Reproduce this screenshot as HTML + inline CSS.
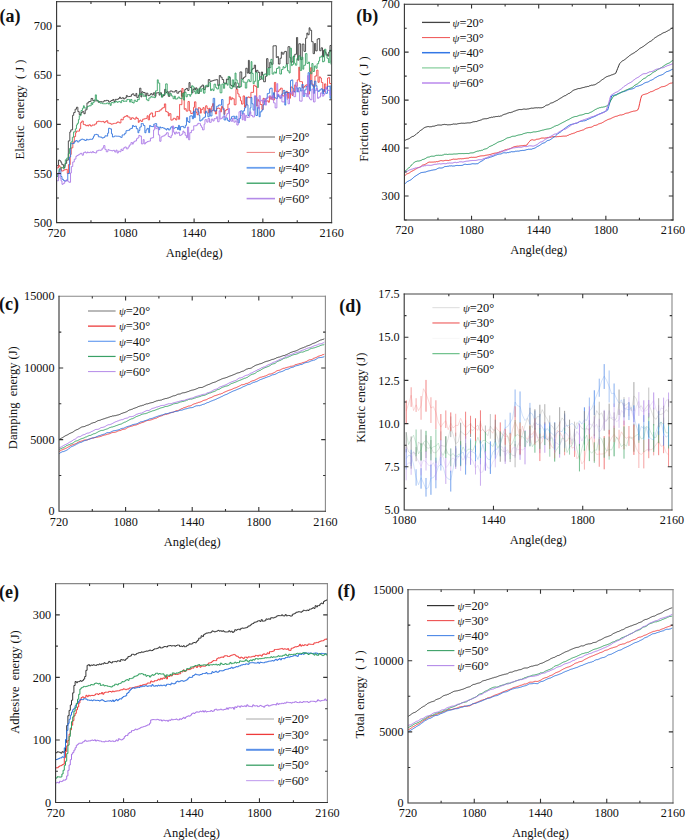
<!DOCTYPE html>
<html><head><meta charset="utf-8"><style>
html,body{margin:0;padding:0;background:#fff;}
body{width:685px;height:840px;overflow:hidden;}
svg{display:block;}
.t{font-family:"Liberation Serif", serif;font-size:12.2px;fill:#111;}
.at{font-family:"Liberation Serif", serif;font-size:12.5px;fill:#111;}
.lg{font-family:"Liberation Serif", serif;font-size:12.4px;fill:#111;}
.tag{font-family:"Liberation Serif", serif;font-size:18px;font-weight:bold;fill:#111;}
</style></head><body>
<svg width="685" height="840" viewBox="0 0 685 840">
<rect width="685" height="840" fill="#fff"/>
<path d="M56.90 165.66H58.53V160.12H59.93V160.97H61.02V162.79H61.86V164.68H63.64V167.56H65.03V163.39H66.62V160.11H68.33V140.89H69.82V131.98H70.81V129.87H72.59V115.35H73.68V112.57H75.11V109.19H76.49V107.24H77.89V111.62H79.22V114.52H81.02V112.55H82.32V111.62H83.89V113.74H85.19V109.85H86.98V102.93H88.76V101.50H89.96V101.34H91.08V98.45H92.74V100.63H94.34V100.87H95.83V100.82H97.04V100.66H98.23V102.25H99.16V101.68H100.59V101.54H101.47V102.05H102.54V101.89H104.00V100.58H104.81V100.80H106.45V100.22H107.32V100.53H108.65V102.07H109.99V101.35H111.02V100.53H112.78V99.47H113.92V101.51H115.22V99.37H116.89V99.39H118.35V98.51H119.53V97.12H120.43V98.36H122.18V97.76H123.57V98.90H124.95V97.89H126.35V95.46H127.30V96.66H128.66V96.47H130.02V96.30H131.40V94.57H132.39V93.82H133.90V95.50H134.77V95.89H135.89V93.45H136.80V97.44H138.35V95.33H139.65V88.19H140.92V97.01H141.79V91.77H143.03V92.59H144.06V92.54H145.16V96.09H146.35V93.17H147.86V95.63H149.45V94.97H150.60V93.66H152.07V94.95H153.38V92.79H154.85V96.37H155.98V92.94H157.68V92.68H159.15V95.13H160.14V92.76H161.51V96.78H163.06V95.53H164.64V89.35H165.88V92.51H166.96V91.66H168.37V96.32H169.90V91.03H171.21V90.96H172.20V91.90H173.61V91.96H175.17V90.60H176.89V93.19H178.68V91.60H179.85V90.97H181.45V96.23H182.94V92.79H184.72V89.58H186.03V88.45H187.69V90.47H188.99V82.61H190.08V87.54H191.84V92.90H192.92V89.58H194.03V88.28H194.89V89.92H195.69V87.84H196.84V89.16H197.91V93.38H199.43V88.43H200.25V86.79H201.94V85.08H203.56V89.47H205.26V86.80H206.83V86.69H208.29V79.62H209.85V81.33H211.53V80.88H213.19V80.36H214.26V79.99H216.01V79.74H217.80V85.56H219.30V75.55H220.71V77.23H222.12V79.54H223.61V83.17H225.32V83.96H226.42V79.13H227.63V79.68H228.74V77.46H230.26V84.94H231.10V85.50H232.30V86.92H233.50V85.14H234.70V82.70H236.07V88.40H237.11V86.59H238.80V87.17H239.98V71.93H241.74V78.99H243.47V77.58H244.62V76.74H245.79V68.25H247.21V73.10H248.40V60.35H249.31V73.51H250.39V72.57H251.38V69.67H252.60V68.37H254.29V65.14H255.56V72.23H256.40V70.35H257.97V72.34H259.63V79.29H261.32V72.03H262.54V75.19H263.63V81.75H265.40V76.43H266.58V58.66H267.94V67.78H269.72V62.33H271.37V64.28H273.06V45.86H274.78V45.72H276.29V57.53H277.42V56.58H278.41V64.05H279.96V58.26H281.33V52.09H282.21V54.14H283.88V52.08H284.77V51.40H286.42V64.00H288.01V46.70H289.79V57.74H290.87V62.26H291.70V61.91H293.01V56.55H294.75V54.31H296.49V37.54H297.65V60.19H298.84V43.75H300.60V59.61H302.22V44.07H303.96V51.36H305.57V38.19H306.88V33.02H307.82V34.74H309.14V27.79H310.03V30.23H311.61V41.69H313.12V53.64H314.50V43.49H315.66V50.88H317.18V39.16H318.42V38.53H319.67V50.76H321.08V47.83H322.49V56.90H323.51V50.33H325.04V52.23H326.03V54.20H327.62V56.11H328.71V52.06H330.01V45.46H331.30V62.64" stroke="#333333" stroke-width="0.85" fill="none"/>
<path d="M56.90 167.86H58.64V165.57H59.80V167.12H61.39V171.05H62.78V170.71H63.87V169.80H65.60V169.42H67.27V173.41H68.43V164.65H70.20V154.41H71.23V147.86H72.83V142.18H74.31V136.58H75.58V132.71H76.42V131.12H78.11V131.13H79.48V128.86H80.67V122.56H81.83V121.00H83.28V124.44H84.43V124.72H85.74V125.71H86.91V125.24H87.76V126.01H88.81V124.79H90.45V126.04H92.07V124.98H93.54V125.14H94.81V123.98H96.58V121.73H98.22V121.14H99.26V121.38H100.63V121.72H102.39V121.42H103.97V122.68H105.14V121.58H106.41V120.69H107.73V123.00H109.43V123.38H110.95V124.19H112.14V123.93H113.41V123.44H114.30V123.38H115.59V123.34H116.62V122.49H117.51V121.86H118.40V122.22H119.42V122.93H120.92V119.23H121.90V119.86H123.27V117.31H124.67V116.36H126.44V115.51H127.69V116.99H129.27V117.16H130.10V119.37H131.55V117.77H133.33V118.50H134.18V119.14H135.88V117.18H136.84V118.51H138.31V122.38H139.14V120.91H140.00V120.12H140.94V121.40H142.64V119.20H144.22V118.77H145.68V118.39H147.13V115.75H148.23V119.86H149.55V114.30H150.84V112.96H152.59V116.92H153.84V116.14H155.39V111.63H156.55V111.54H158.27V111.19H159.92V109.88H161.72V108.40H162.74V107.69H164.41V103.90H165.69V111.57H167.00V112.18H168.34V115.97H169.23V113.67H170.91V120.13H172.32V119.80H173.22V118.27H174.76V118.70H175.68V119.98H176.86V116.38H178.33V119.21H179.59V104.41H180.46V104.68H181.88V88.49H183.05V96.01H184.23V109.25H185.19V108.70H186.17V111.09H187.97V101.55H189.37V110.80H190.76V113.50H192.34V112.88H193.52V107.35H194.48V101.83H195.89V112.29H197.09V114.72H198.29V107.73H199.18V108.00H200.40V113.13H201.25V109.33H202.96V107.62H204.13V113.16H205.65V105.82H207.03V108.33H208.28V112.70H209.41V108.20H210.25V111.97H211.70V106.26H212.60V103.61H213.63V110.83H215.39V113.96H216.57V108.47H217.73V108.03H219.22V108.62H220.29V111.90H221.46V106.45H222.57V108.13H224.06V114.32H224.94V110.69H226.12V109.56H227.92V104.15H229.36V96.81H230.63V99.74H231.72V97.73H232.55V98.75H234.26V104.81H235.98V89.43H237.75V93.93H239.03V96.88H240.43V100.73H241.52V104.09H243.14V95.92H244.53V107.18H245.62V105.19H246.72V97.79H247.88V96.93H249.35V97.65H250.92V92.36H251.82V92.39H253.55V85.28H255.10V86.38H256.71V106.09H257.70V99.65H258.65V101.23H260.18V104.52H261.92V109.45H263.07V98.35H263.97V98.92H265.09V101.48H266.73V100.87H268.35V102.26H269.39V96.15H270.34V99.07H271.64V96.88H272.76V100.01H274.41V82.44H275.68V91.38H276.70V91.14H277.93V91.47H278.96V89.84H280.46V88.16H282.23V95.80H283.64V96.05H284.68V92.38H286.29V91.23H287.45V98.40H288.34V92.60H289.30V98.26H290.47V87.03H292.10V95.40H293.13V91.46H294.71V84.84H295.59V86.28H297.23V79.91H298.75V67.18H299.64V81.60H300.48V81.53H301.53V81.77H302.51V88.01H303.96V86.60H305.23V85.32H306.60V84.63H307.69V94.05H309.46V84.28H310.37V67.76H311.83V84.18H313.16V87.00H314.95V76.02H316.71V70.12H317.99V82.26H319.23V76.88H320.39V78.00H321.36V82.45H322.84V91.72H324.53V83.88H325.81V88.76H327.52V78.06H328.57V77.61H329.64V83.51H331.30V86.93" stroke="#ee3b3b" stroke-width="0.85" fill="none"/>
<path d="M56.90 175.02H57.86V174.17H59.25V168.92H60.87V176.52H61.97V179.30H63.45V180.56H64.72V181.08H66.41V180.34H67.77V173.53H69.57V156.97H70.61V143.30H71.52V143.83H72.66V143.47H74.24V141.79H75.58V140.64H77.31V141.94H79.10V140.35H80.82V139.42H81.78V139.14H83.17V139.67H84.70V140.46H86.42V139.20H87.37V139.86H88.78V139.64H89.63V139.24H91.18V139.33H92.55V138.19H93.48V136.22H94.39V134.65H95.71V134.36H97.01V134.81H98.35V136.83H100.12V137.12H101.90V138.04H103.00V137.80H103.87V137.27H104.96V135.82H106.58V136.12H107.64V133.16H108.58V128.27H109.99V128.86H111.48V133.84H112.45V137.02H113.31V136.84H114.27V136.09H115.31V136.02H116.47V136.23H117.83V136.22H119.55V136.68H120.70V137.36H122.13V134.93H123.59V134.86H124.68V133.30H126.03V130.68H127.81V130.30H129.61V129.05H130.83V128.38H132.46V125.46H133.59V126.49H135.20V126.07H136.37V128.75H137.95V132.75H138.83V130.49H139.83V127.00H141.26V123.50H142.28V123.67H143.38V125.53H144.85V132.75H145.95V129.96H147.07V128.40H148.69V132.61H149.60V125.44H150.44V126.36H152.07V126.58H153.77V124.10H155.25V123.61H156.68V126.90H158.37V129.69H159.70V126.92H160.61V127.90H161.79V127.57H163.03V128.09H164.68V128.93H166.09V130.03H166.96V128.56H168.42V129.93H170.06V128.23H170.94V126.85H172.66V128.16H173.52V128.22H175.02V127.52H176.18V127.54H177.49V129.47H178.46V125.37H179.43V130.11H180.52V126.65H182.12V126.41H183.75V127.76H185.34V125.32H186.48V117.68H187.62V121.49H188.87V122.51H189.82V115.99H191.01V115.86H192.36V118.77H193.45V111.14H194.42V117.59H195.31V108.94H196.56V109.08H197.89V111.73H199.00V115.40H199.80V120.97H201.08V119.90H202.83V118.00H204.21V117.11H205.49V111.26H206.74V112.96H207.87V116.81H209.26V109.54H210.26V116.00H211.95V110.38H213.20V98.33H214.67V111.16H215.53V110.77H216.70V106.25H217.65V106.17H218.64V104.97H220.08V105.12H221.53V99.52H222.97V109.66H224.10V119.97H225.75V117.90H227.33V120.34H228.73V121.44H229.90V119.13H231.44V116.75H232.51V116.33H233.54V116.09H234.37V118.74H235.91V116.15H236.87V119.65H238.00V122.84H239.29V118.41H240.56V110.87H242.16V114.19H243.10V110.85H244.52V107.80H245.84V97.30H246.86V104.89H247.98V115.60H249.17V113.81H250.09V107.86H250.94V97.49H251.89V103.75H253.10V110.09H254.75V96.42H255.85V115.50H257.47V107.31H259.15V116.78H260.17V111.82H261.79V110.07H263.06V104.79H264.38V100.75H265.96V98.18H267.25V93.63H268.69V93.13H269.64V88.87H270.50V88.18H272.14V97.58H273.47V92.72H274.32V97.78H275.88V98.58H277.44V94.45H278.49V96.79H280.00V97.89H281.76V93.96H283.14V90.41H284.82V105.09H285.73V91.89H286.62V92.74H287.78V92.47H288.71V93.02H290.51V80.59H291.48V79.93H292.77V88.36H293.65V91.46H294.49V92.13H296.05V87.75H297.51V91.87H298.70V87.76H300.33V91.02H301.86V84.48H303.18V96.32H304.75V89.86H306.17V86.50H307.06V86.74H308.11V72.69H309.44V90.88H310.55V80.58H311.91V85.27H313.37V93.39H314.48V81.15H315.87V85.71H316.96V90.79H318.43V91.54H319.25V90.02H321.01V88.78H322.35V93.96H323.52V89.57H324.76V91.21H325.73V93.34H327.45V86.31H328.73V86.23H330.03V98.27H330.95V85.51H331.30V93.75" stroke="#2a6fdd" stroke-width="0.85" fill="none"/>
<path d="M56.90 176.44H58.01V173.97H59.04V169.73H60.02V167.94H61.68V167.62H63.34V168.74H64.24V165.42H65.33V159.79H66.79V158.07H68.29V153.71H69.53V148.44H70.81V141.92H72.35V137.26H73.59V131.89H75.35V128.87H76.46V124.91H77.37V123.32H78.43V119.64H79.28V115.71H81.00V110.55H82.45V108.25H83.45V105.76H84.29V108.01H85.93V108.20H87.10V106.57H88.11V106.22H89.32V105.61H90.28V105.85H91.15V102.87H91.98V104.41H92.78V102.38H94.20V99.86H95.33V94.87H96.39V100.08H97.65V101.19H99.08V102.27H100.12V103.17H101.05V103.05H102.52V103.71H103.60V103.72H105.25V103.73H106.56V103.04H108.34V104.06H109.32V103.44H110.25V105.40H111.21V102.58H112.98V102.84H114.46V102.16H115.86V101.23H117.00V102.32H117.96V101.93H118.77V101.57H120.38V102.67H121.64V100.36H123.43V101.53H124.25V101.11H125.90V101.34H126.87V99.44H128.65V99.48H129.60V102.07H130.63V99.47H131.90V102.47H133.22V103.05H134.18V100.23H135.70V101.48H137.41V99.16H138.29V99.77H139.26V93.77H140.83V94.98H141.69V93.80H143.17V96.27H144.71V95.95H146.40V99.73H147.75V100.68H148.92V97.93H149.81V97.84H150.88V96.28H151.83V97.11H153.14V97.03H153.97V97.64H155.53V90.85H157.32V79.84H158.26V83.07H159.72V93.93H161.41V97.19H162.43V94.62H164.14V94.18H165.67V83.88H167.23V93.91H168.28V95.60H169.79V93.66H171.38V95.97H173.08V98.71H174.44V96.03H175.34V99.10H176.78V98.73H177.98V97.05H179.66V98.42H180.81V98.72H182.22V93.44H183.56V100.11H184.49V92.22H186.02V96.79H187.28V94.58H188.60V94.58H189.83V96.27H190.66V94.48H191.58V85.79H192.89V86.91H194.10V91.48H195.32V93.69H196.34V89.86H197.71V93.38H198.95V88.28H200.26V91.40H201.68V88.71H203.46V93.14H204.97V85.89H206.39V85.21H207.89V86.44H208.96V82.68H210.52V90.54H211.57V89.06H213.04V90.60H214.06V84.19H215.66V87.52H216.81V88.96H218.53V84.49H220.13V92.81H221.87V84.09H223.43V88.31H224.60V82.93H225.59V83.66H227.29V85.24H228.14V76.46H229.90V87.88H230.86V88.61H232.25V79.86H233.57V86.79H235.06V73.04H236.01V79.99H237.18V83.19H238.57V87.51H240.16V86.60H241.55V79.40H243.02V82.10H244.08V82.14H245.30V88.08H246.72V81.98H247.87V79.76H249.46V81.64H251.12V61.58H251.93V73.37H253.16V83.68H254.19V81.27H255.63V72.61H257.33V87.51H258.42V80.39H259.56V77.14H260.78V76.48H262.08V79.18H263.37V74.74H264.66V73.95H266.28V75.84H267.41V68.59H268.73V74.90H269.72V67.65H270.88V59.36H272.15V74.07H273.89V72.01H275.44V73.16H276.50V68.50H278.24V66.92H279.84V74.03H281.51V69.44H283.06V66.68H284.01V67.88H285.13V67.17H286.04V64.65H287.48V70.84H289.06V72.98H290.11V48.25H291.46V65.61H292.30V64.44H293.54V55.89H294.37V63.18H295.37V65.17H296.81V58.65H298.55V55.86H300.16V70.44H301.63V57.18H302.84V69.20H303.75V65.27H305.41V53.61H306.95V63.44H308.43V62.04H309.46V71.82H310.76V73.81H311.86V63.56H313.01V71.44H314.46V65.97H315.95V68.23H317.08V63.76H318.60V61.04H319.61V57.15H321.30V55.95H322.61V61.93H323.52V61.26H324.59V49.22H325.87V55.29H326.99V58.25H328.44V62.60H329.79V50.26H331.05V64.35H331.30V60.62" stroke="#2f9e5e" stroke-width="0.85" fill="none"/>
<path d="M56.90 180.74H58.54V172.45H60.03V178.11H61.05V180.95H61.97V184.33H63.15V183.32H64.70V180.96H66.24V179.91H67.45V181.13H68.89V182.32H70.52V172.91H71.38V166.56H72.72V161.97H74.28V159.11H75.90V156.36H76.92V155.49H78.21V154.78H79.37V154.09H80.44V153.35H82.04V155.18H83.40V152.65H84.76V151.92H85.83V152.98H87.32V151.98H88.18V152.62H89.96V152.07H91.26V152.75H92.25V151.58H93.51V152.56H95.02V152.90H96.65V150.84H98.32V150.20H99.88V150.29H101.06V149.95H102.16V148.13H103.65V145.57H104.91V149.39H106.25V151.76H107.92V149.64H108.83V150.10H109.67V150.34H110.73V150.62H111.92V150.86H113.02V150.36H114.71V151.99H115.97V150.11H117.12V153.01H118.30V151.18H119.71V151.77H120.98V149.21H121.90V150.47H123.20V148.06H124.75V146.99H126.31V148.85H128.09V147.02H129.29V144.99H130.94V142.61H132.38V144.14H133.26V141.98H134.75V140.95H136.54V138.69H137.61V137.86H138.82V135.41H139.91V136.12H141.43V143.88H143.14V139.64H144.20V143.97H145.39V142.60H146.98V141.58H148.67V141.10H150.45V138.16H152.03V137.74H153.55V129.93H154.64V125.41H155.71V128.65H156.87V127.92H158.41V134.94H159.76V141.27H161.00V136.98H162.21V136.19H163.63V135.73H165.11V134.34H166.47V132.75H168.25V136.52H169.96V137.62H171.25V135.25H172.37V125.98H173.62V132.25H174.50V134.07H175.80V131.95H176.73V133.20H178.38V132.39H179.59V135.56H180.63V134.97H181.88V133.91H182.94V131.04H183.86V132.43H185.17V135.31H186.42V137.79H187.47V127.04H188.63V139.81H189.74V132.66H191.42V130.30H192.57V130.19H193.72V125.81H194.78V125.77H196.37V124.99H197.81V123.36H199.36V123.60H200.47V125.62H201.44V127.31H202.47V129.85H204.10V124.20H204.98V119.70H206.77V122.13H208.06V118.53H209.52V122.33H211.24V119.13H212.86V121.03H214.14V118.57H215.03V118.78H216.41V116.79H217.64V121.74H219.14V110.85H220.10V119.02H221.31V118.48H222.29V116.93H224.04V116.56H225.29V117.50H226.12V115.21H226.97V113.51H228.44V108.47H229.52V120.13H231.22V121.33H232.51V118.27H233.88V122.18H235.27V120.86H236.87V125.03H238.19V118.88H239.03V111.77H240.66V115.22H242.28V119.88H243.19V113.61H244.61V120.60H245.60V115.43H246.87V117.47H248.03V117.19H249.67V111.87H250.84V115.48H252.62V116.94H254.39V95.77H255.85V97.65H257.33V105.44H258.27V108.72H259.24V95.71H260.31V101.03H261.57V100.14H262.77V103.14H263.78V98.81H265.44V105.12H266.36V98.87H267.51V97.23H269.15V95.92H270.90V99.19H272.38V95.40H273.57V102.87H275.14V107.90H276.88V83.64H277.70V94.68H278.68V95.26H279.86V98.62H280.78V95.25H281.92V101.85H283.54V102.06H284.41V94.96H285.36V96.34H286.20V94.13H287.15V99.45H288.05V103.81H289.51V92.39H291.14V94.17H292.14V91.39H293.84V96.68H295.61V82.66H297.07V89.86H298.42V91.28H299.67V101.07H301.07V101.16H302.09V90.04H303.37V94.22H305.05V93.48H306.65V96.71H307.55V75.62H308.65V97.14H309.52V98.97H310.51V99.83H311.92V89.04H313.48V101.95H315.07V90.61H315.98V88.53H317.54V98.35H318.77V97.07H320.48V92.93H322.21V96.13H323.68V94.78H324.69V93.04H325.53V87.14H326.67V89.63H328.13V90.50H329.92V94.62H331.12V95.64H331.30V88.86" stroke="#a874e6" stroke-width="0.85" fill="none"/>
<path d="M404.70 140.54 405.70 140.00 406.70 139.52 407.70 139.21 408.70 138.83 409.70 138.29 410.70 137.52 411.70 136.90 412.70 136.38 413.70 136.21 414.70 135.39 415.70 134.68 416.70 133.65 417.70 133.11 418.70 131.98 419.70 131.17 420.70 130.34 421.70 129.72 422.70 129.01 423.70 128.15 424.70 127.54 425.70 127.13 426.70 126.87 427.70 126.61 428.70 126.58 429.70 126.83 430.70 126.72 431.70 126.67 432.70 126.23 433.70 126.21 434.70 126.05 435.70 125.63 436.70 125.43 437.70 125.04 438.70 125.00 439.70 125.02 440.70 125.09 441.70 125.02 442.70 124.63 443.70 124.56 444.70 124.36 445.70 124.62 446.70 124.61 447.70 124.89 448.70 124.79 449.70 124.74 450.70 124.70 451.70 124.43 452.70 124.27 453.70 123.94 454.70 124.13 455.70 124.06 456.70 124.15 457.70 123.75 458.70 123.61 459.70 123.43 460.70 123.34 461.70 123.18 462.70 123.26 463.70 123.22 464.70 123.30 465.70 123.10 466.70 123.02 467.70 122.87 468.70 122.89 469.70 122.88 470.70 122.73 471.70 122.39 472.70 122.03 473.70 121.75 474.70 121.71 475.70 121.50 476.70 121.53 477.70 120.99 478.70 120.64 479.70 120.42 480.70 120.06 481.70 119.76 482.70 119.09 483.70 118.95 484.70 118.78 485.70 118.72 486.70 118.69 487.70 118.41 488.70 118.12 489.70 117.64 490.70 117.57 491.70 117.17 492.70 117.33 493.70 116.84 494.70 116.92 495.70 116.57 496.70 116.50 497.70 116.48 498.70 116.20 499.70 116.39 500.70 115.93 501.70 115.83 502.70 115.00 503.70 114.59 504.70 114.23 505.70 114.03 506.70 113.67 507.70 113.15 508.70 112.87 509.70 112.52 510.70 112.62 511.70 112.19 512.70 111.93 513.70 111.31 514.70 111.05 515.70 110.74 516.70 110.25 517.70 110.02 518.70 109.70 519.70 109.50 520.70 109.57 521.70 109.57 522.70 109.31 523.70 109.06 524.70 109.07 525.70 109.23 526.70 109.17 527.70 108.95 528.70 108.88 529.70 108.59 530.70 108.33 531.70 108.12 532.70 108.22 533.70 108.13 534.70 107.89 535.70 107.82 536.70 107.75 537.70 107.87 538.70 107.68 539.70 107.82 540.70 107.78 541.70 107.75 542.70 107.45 543.70 107.00 544.70 106.41 545.70 105.55 546.70 105.11 547.70 104.98 548.70 104.59 549.70 103.90 550.70 103.12 551.70 102.92 552.70 102.67 553.70 102.14 554.70 101.55 555.70 101.08 556.70 100.54 557.70 100.11 558.70 99.26 559.70 98.72 560.70 98.07 561.70 97.59 562.70 96.83 563.70 96.28 564.70 95.74 565.70 95.53 566.70 94.68 567.70 94.18 568.70 93.43 569.70 93.24 570.70 92.36 571.70 91.66 572.70 90.77 573.70 90.17 574.70 89.75 575.70 89.51 576.70 89.14 577.70 88.75 578.70 88.51 579.70 88.55 580.70 88.24 581.70 87.93 582.70 87.65 583.70 87.46 584.70 87.21 585.70 86.84 586.70 86.75 587.70 86.42 588.70 86.42 589.70 85.76 590.70 85.53 591.70 85.15 592.70 85.23 593.70 84.91 594.70 84.75 595.70 84.27 596.70 83.64 597.70 82.94 598.70 82.35 599.70 81.71 600.70 80.86 601.70 80.04 602.70 79.39 603.70 78.75 604.70 77.94 605.70 77.26 606.70 76.66 607.70 76.38 608.70 75.94 609.70 75.74 610.70 75.32 611.70 74.85 612.70 74.65 613.70 74.16 614.70 73.82 615.70 73.31 616.70 70.86 617.70 68.34 618.70 65.85 619.70 63.45 620.70 62.50 621.70 61.56 622.70 60.73 623.70 60.32 624.70 59.58 625.70 58.85 626.70 57.97 627.70 57.19 628.70 56.41 629.70 55.48 630.70 54.88 631.70 54.12 632.70 53.68 633.70 53.03 634.70 52.52 635.70 51.62 636.70 51.14 637.70 50.25 638.70 49.42 639.70 48.53 640.70 47.93 641.70 47.45 642.70 46.79 643.70 46.23 644.70 45.42 645.70 44.64 646.70 43.92 647.70 43.15 648.70 42.41 649.70 41.67 650.70 41.26 651.70 40.63 652.70 39.80 653.70 38.78 654.70 37.97 655.70 37.31 656.70 36.78 657.70 36.00 658.70 35.52 659.70 34.88 660.70 34.55 661.70 33.78 662.70 33.17 663.70 32.66 664.70 32.36 665.70 32.00 666.70 31.37 667.70 30.90 668.70 30.20 669.70 29.84 670.70 28.92 671.70 28.42 672.70 27.84" stroke="#333333" stroke-width="1.0" fill="none"/>
<path d="M404.70 175.77 405.70 174.90 406.70 173.96 407.70 173.61 408.70 173.26 409.70 172.70 410.70 171.90 411.70 171.28 412.70 170.81 413.70 170.18 414.70 169.73 415.70 169.06 416.70 168.54 417.70 167.83 418.70 167.40 419.70 167.15 420.70 166.52 421.70 165.84 422.70 165.02 423.70 164.86 424.70 164.57 425.70 164.05 426.70 163.43 427.70 162.74 428.70 162.27 429.70 162.05 430.70 162.15 431.70 162.12 432.70 162.09 433.70 162.06 434.70 161.92 435.70 161.94 436.70 161.55 437.70 161.73 438.70 161.27 439.70 161.01 440.70 160.64 441.70 160.66 442.70 160.87 443.70 160.82 444.70 160.54 445.70 160.33 446.70 160.41 447.70 160.43 448.70 160.52 449.70 160.11 450.70 160.00 451.70 159.55 452.70 159.34 453.70 159.08 454.70 159.28 455.70 159.23 456.70 159.22 457.70 159.02 458.70 158.80 459.70 158.83 460.70 158.70 461.70 158.83 462.70 158.70 463.70 158.66 464.70 158.40 465.70 158.32 466.70 158.20 467.70 158.15 468.70 158.07 469.70 157.50 470.70 157.41 471.70 157.24 472.70 157.38 473.70 157.29 474.70 157.33 475.70 157.28 476.70 157.13 477.70 156.69 478.70 156.41 479.70 156.17 480.70 155.93 481.70 155.85 482.70 155.80 483.70 155.78 484.70 155.61 485.70 155.27 486.70 155.17 487.70 154.97 488.70 154.82 489.70 154.50 490.70 154.37 491.70 153.99 492.70 153.64 493.70 153.40 494.70 153.20 495.70 153.05 496.70 152.96 497.70 152.62 498.70 152.34 499.70 151.86 500.70 151.95 501.70 151.66 502.70 151.10 503.70 150.43 504.70 150.05 505.70 149.65 506.70 149.66 507.70 149.20 508.70 149.18 509.70 148.65 510.70 148.41 511.70 147.95 512.70 147.35 513.70 146.95 514.70 146.60 515.70 146.43 516.70 146.25 517.70 146.13 518.70 146.17 519.70 145.94 520.70 145.84 521.70 145.73 522.70 145.69 523.70 145.50 524.70 145.38 525.70 145.42 526.70 145.19 527.70 143.72 528.70 142.39 529.70 141.32 530.70 140.07 531.70 139.86 532.70 139.76 533.70 140.11 534.70 140.05 535.70 139.78 536.70 139.19 537.70 139.19 538.70 139.06 539.70 138.80 540.70 138.34 541.70 138.05 542.70 138.04 543.70 138.04 544.70 138.13 545.70 137.91 546.70 137.82 547.70 137.42 548.70 137.45 549.70 137.24 550.70 137.30 551.70 136.92 552.70 136.67 553.70 136.46 554.70 136.68 555.70 136.74 556.70 136.79 557.70 136.59 558.70 136.59 559.70 136.40 560.70 136.46 561.70 136.30 562.70 136.21 563.70 136.10 564.70 136.13 565.70 136.05 566.70 135.96 567.70 135.37 568.70 135.12 569.70 134.46 570.70 134.29 571.70 133.73 572.70 133.59 573.70 133.18 574.70 132.94 575.70 132.36 576.70 131.88 577.70 131.50 578.70 131.37 579.70 131.02 580.70 130.62 581.70 130.36 582.70 130.02 583.70 129.80 584.70 129.00 585.70 128.51 586.70 128.01 587.70 127.84 588.70 127.55 589.70 127.35 590.70 127.28 591.70 127.05 592.70 126.53 593.70 125.85 594.70 125.38 595.70 125.33 596.70 125.01 597.70 124.60 598.70 123.89 599.70 123.68 600.70 123.29 601.70 123.06 602.70 122.42 603.70 121.91 604.70 121.19 605.70 120.68 606.70 120.22 607.70 119.65 608.70 119.28 609.70 118.98 610.70 118.68 611.70 118.10 612.70 117.62 613.70 117.17 614.70 116.77 615.70 116.34 616.70 116.22 617.70 115.91 618.70 115.44 619.70 115.13 620.70 114.93 621.70 114.98 622.70 114.65 623.70 114.40 624.70 113.81 625.70 113.33 626.70 113.14 627.70 112.99 628.70 112.79 629.70 112.32 630.70 111.98 631.70 111.65 632.70 111.42 633.70 111.10 634.70 111.05 635.70 110.83 636.70 110.54 637.70 110.06 638.70 107.72 639.70 103.29 640.70 98.82 641.70 95.58 642.70 95.06 643.70 94.52 644.70 94.32 645.70 94.00 646.70 93.76 647.70 93.42 648.70 92.73 649.70 92.33 650.70 91.68 651.70 91.60 652.70 91.22 653.70 90.74 654.70 90.17 655.70 89.57 656.70 89.29 657.70 88.89 658.70 88.48 659.70 87.78 660.70 87.26 661.70 86.77 662.70 86.69 663.70 86.50 664.70 86.29 665.70 85.87 666.70 85.30 667.70 84.80 668.70 84.05 669.70 83.49 670.70 83.13 671.70 83.09 672.70 82.76" stroke="#ee3b3b" stroke-width="1.0" fill="none"/>
<path d="M404.70 183.91 405.70 183.08 406.70 182.12 407.70 181.37 408.70 180.97 409.70 180.41 410.70 179.92 411.70 179.20 412.70 178.32 413.70 177.39 414.70 176.56 415.70 175.96 416.70 175.31 417.70 174.63 418.70 174.06 419.70 173.39 420.70 172.85 421.70 172.50 422.70 172.40 423.70 172.28 424.70 172.10 425.70 171.99 426.70 171.56 427.70 171.22 428.70 170.94 429.70 170.77 430.70 170.54 431.70 170.22 432.70 170.10 433.70 169.89 434.70 169.75 435.70 169.57 436.70 169.12 437.70 168.48 438.70 168.10 439.70 167.91 440.70 168.04 441.70 167.98 442.70 167.76 443.70 167.24 444.70 166.60 445.70 166.51 446.70 166.46 447.70 166.27 448.70 166.19 449.70 165.87 450.70 165.93 451.70 165.80 452.70 166.09 453.70 165.98 454.70 165.93 455.70 165.57 456.70 165.48 457.70 165.43 458.70 165.56 459.70 165.47 460.70 165.47 461.70 165.41 462.70 165.22 463.70 164.66 464.70 164.29 465.70 164.28 466.70 164.50 467.70 164.50 468.70 164.35 469.70 164.32 470.70 164.19 471.70 163.90 472.70 163.70 473.70 163.79 474.70 163.85 475.70 163.87 476.70 163.73 477.70 163.68 478.70 163.02 479.70 162.22 480.70 161.60 481.70 161.09 482.70 160.56 483.70 159.80 484.70 159.16 485.70 158.38 486.70 158.39 487.70 157.92 488.70 157.84 489.70 157.37 490.70 157.05 491.70 156.79 492.70 156.43 493.70 156.02 494.70 155.58 495.70 155.08 496.70 154.84 497.70 154.32 498.70 154.21 499.70 154.00 500.70 153.97 501.70 153.64 502.70 153.04 503.70 152.77 504.70 152.79 505.70 152.88 506.70 152.86 507.70 152.49 508.70 152.60 509.70 152.14 510.70 152.02 511.70 151.64 512.70 151.80 513.70 151.72 514.70 151.64 515.70 151.16 516.70 151.24 517.70 151.09 518.70 151.13 519.70 150.91 520.70 150.60 521.70 150.56 522.70 150.36 523.70 150.43 524.70 150.27 525.70 149.99 526.70 149.63 527.70 149.48 528.70 149.19 529.70 149.28 530.70 149.19 531.70 149.19 532.70 148.69 533.70 148.51 534.70 148.13 535.70 147.64 536.70 146.93 537.70 146.29 538.70 145.92 539.70 145.34 540.70 144.64 541.70 143.92 542.70 143.26 543.70 142.98 544.70 142.67 545.70 141.96 546.70 141.13 547.70 140.51 548.70 140.33 549.70 140.02 550.70 139.40 551.70 138.71 552.70 137.93 553.70 137.37 554.70 136.72 555.70 135.71 556.70 134.78 557.70 133.74 558.70 133.24 559.70 132.48 560.70 131.89 561.70 131.04 562.70 130.02 563.70 129.19 564.70 128.31 565.70 127.74 566.70 126.99 567.70 126.29 568.70 125.53 569.70 125.07 570.70 124.58 571.70 124.37 572.70 124.11 573.70 123.92 574.70 123.56 575.70 123.30 576.70 123.25 577.70 122.73 578.70 122.38 579.70 121.57 580.70 121.45 581.70 121.16 582.70 121.15 583.70 120.79 584.70 120.80 585.70 120.47 586.70 120.04 587.70 119.38 588.70 119.09 589.70 118.60 590.70 118.27 591.70 117.59 592.70 117.20 593.70 116.90 594.70 116.47 595.70 116.03 596.70 115.49 597.70 114.92 598.70 114.48 599.70 113.74 600.70 113.45 601.70 112.88 602.70 112.64 603.70 112.11 604.70 111.71 605.70 111.26 606.70 110.76 607.70 110.07 608.70 106.50 609.70 103.13 610.70 99.40 611.70 95.85 612.70 95.41 613.70 95.24 614.70 95.00 615.70 94.75 616.70 94.39 617.70 93.85 618.70 93.33 619.70 92.96 620.70 92.54 621.70 92.21 622.70 91.79 623.70 91.63 624.70 91.39 625.70 90.92 626.70 90.59 627.70 89.96 628.70 89.67 629.70 89.35 630.70 89.19 631.70 88.97 632.70 88.74 633.70 88.30 634.70 87.78 635.70 86.79 636.70 86.40 637.70 86.14 638.70 85.96 639.70 85.48 640.70 85.20 641.70 84.75 642.70 84.31 643.70 83.52 644.70 82.94 645.70 82.56 646.70 82.24 647.70 82.04 648.70 81.60 649.70 80.91 650.70 80.28 651.70 80.05 652.70 79.53 653.70 78.91 654.70 78.07 655.70 77.52 656.70 77.03 657.70 76.35 658.70 75.88 659.70 75.48 660.70 75.22 661.70 74.86 662.70 74.47 663.70 73.82 664.70 72.98 665.70 72.29 666.70 71.62 667.70 71.45 668.70 71.08 669.70 70.70 670.70 70.14 671.70 69.64 672.70 69.20" stroke="#2a6fdd" stroke-width="1.0" fill="none"/>
<path d="M404.70 171.32 405.70 170.50 406.70 169.82 407.70 168.83 408.70 168.05 409.70 167.04 410.70 166.12 411.70 164.83 412.70 163.78 413.70 162.89 414.70 162.16 415.70 161.55 416.70 161.32 417.70 161.00 418.70 161.04 419.70 160.83 420.70 160.52 421.70 160.12 422.70 159.43 423.70 159.34 424.70 158.88 425.70 158.37 426.70 157.69 427.70 157.18 428.70 157.05 429.70 156.91 430.70 156.36 431.70 156.18 432.70 156.21 433.70 156.24 434.70 156.03 435.70 155.55 436.70 155.31 437.70 155.34 438.70 155.22 439.70 155.35 440.70 155.25 441.70 155.33 442.70 155.03 443.70 154.80 444.70 154.21 445.70 154.32 446.70 154.26 447.70 154.50 448.70 154.29 449.70 154.21 450.70 154.24 451.70 154.22 452.70 154.20 453.70 154.00 454.70 153.97 455.70 154.01 456.70 153.93 457.70 153.84 458.70 153.61 459.70 153.60 460.70 153.62 461.70 153.59 462.70 153.56 463.70 153.62 464.70 153.57 465.70 153.50 466.70 153.47 467.70 153.49 468.70 153.56 469.70 153.19 470.70 152.91 471.70 152.88 472.70 152.87 473.70 152.67 474.70 152.18 475.70 151.73 476.70 151.37 477.70 151.08 478.70 151.03 479.70 150.63 480.70 150.65 481.70 150.22 482.70 150.18 483.70 149.38 484.70 149.08 485.70 148.87 486.70 148.60 487.70 147.98 488.70 147.20 489.70 146.41 490.70 146.14 491.70 145.65 492.70 145.29 493.70 144.54 494.70 144.20 495.70 143.56 496.70 142.99 497.70 142.28 498.70 141.91 499.70 141.57 500.70 141.30 501.70 140.90 502.70 140.47 503.70 140.08 504.70 139.42 505.70 138.84 506.70 138.21 507.70 137.78 508.70 137.65 509.70 137.39 510.70 137.09 511.70 136.56 512.70 136.26 513.70 136.22 514.70 136.20 515.70 135.98 516.70 135.53 517.70 135.25 518.70 134.98 519.70 134.85 520.70 134.62 521.70 134.49 522.70 134.06 523.70 133.57 524.70 133.38 525.70 133.07 526.70 132.86 527.70 132.56 528.70 132.65 529.70 132.64 530.70 132.69 531.70 132.40 532.70 132.17 533.70 131.87 534.70 131.90 535.70 131.87 536.70 131.67 537.70 131.46 538.70 131.21 539.70 131.01 540.70 130.61 541.70 130.39 542.70 130.12 543.70 129.98 544.70 129.62 545.70 129.40 546.70 129.16 547.70 128.99 548.70 128.87 549.70 128.67 550.70 128.37 551.70 127.92 552.70 127.26 553.70 126.92 554.70 126.14 555.70 125.92 556.70 125.43 557.70 125.29 558.70 124.71 559.70 124.17 560.70 123.59 561.70 123.07 562.70 122.52 563.70 122.02 564.70 121.54 565.70 120.99 566.70 120.42 567.70 119.90 568.70 119.57 569.70 118.95 570.70 118.36 571.70 117.79 572.70 117.33 573.70 116.99 574.70 116.64 575.70 116.48 576.70 116.43 577.70 116.02 578.70 115.61 579.70 115.22 580.70 115.09 581.70 114.94 582.70 114.68 583.70 114.35 584.70 113.88 585.70 113.53 586.70 113.47 587.70 113.49 588.70 113.31 589.70 112.73 590.70 112.24 591.70 111.86 592.70 111.22 593.70 110.59 594.70 109.95 595.70 109.34 596.70 108.95 597.70 108.27 598.70 108.17 599.70 107.64 600.70 107.59 601.70 107.20 602.70 107.22 603.70 106.95 604.70 106.78 605.70 106.34 606.70 105.98 607.70 105.59 608.70 103.99 609.70 102.42 610.70 100.65 611.70 99.00 612.70 97.42 613.70 95.82 614.70 95.66 615.70 95.19 616.70 94.92 617.70 94.04 618.70 93.80 619.70 93.18 620.70 92.79 621.70 92.10 622.70 91.68 623.70 91.23 624.70 90.72 625.70 90.26 626.70 89.78 627.70 89.42 628.70 88.96 629.70 88.54 630.70 88.15 631.70 87.73 632.70 87.17 633.70 86.28 634.70 85.27 635.70 84.82 636.70 84.23 637.70 83.72 638.70 82.75 639.70 81.95 640.70 81.23 641.70 80.24 642.70 79.33 643.70 78.67 644.70 78.22 645.70 77.78 646.70 76.81 647.70 76.03 648.70 75.46 649.70 75.08 650.70 74.44 651.70 73.60 652.70 72.69 653.70 72.11 654.70 71.55 655.70 71.14 656.70 70.34 657.70 69.56 658.70 69.00 659.70 68.59 660.70 68.03 661.70 67.42 662.70 66.69 663.70 65.99 664.70 65.24 665.70 64.64 666.70 64.07 667.70 63.58 668.70 63.22 669.70 62.72 670.70 61.94 671.70 61.12 672.70 60.41" stroke="#2f9e5e" stroke-width="1.0" fill="none"/>
<path d="M404.70 171.74 405.70 171.69 406.70 171.41 407.70 171.09 408.70 170.43 409.70 169.90 410.70 169.62 411.70 169.19 412.70 169.00 413.70 168.50 414.70 168.32 415.70 167.95 416.70 167.93 417.70 167.78 418.70 167.72 419.70 167.40 420.70 166.95 421.70 166.48 422.70 165.98 423.70 166.03 424.70 165.64 425.70 165.69 426.70 165.20 427.70 165.25 428.70 165.25 429.70 165.37 430.70 165.33 431.70 165.22 432.70 164.94 433.70 164.64 434.70 164.34 435.70 164.31 436.70 164.22 437.70 163.96 438.70 163.89 439.70 163.78 440.70 163.99 441.70 163.82 442.70 163.66 443.70 163.59 444.70 163.69 445.70 163.75 446.70 163.50 447.70 163.09 448.70 163.16 449.70 162.96 450.70 163.09 451.70 163.03 452.70 163.06 453.70 162.64 454.70 162.39 455.70 162.36 456.70 162.69 457.70 162.37 458.70 162.28 459.70 161.76 460.70 161.81 461.70 161.80 462.70 162.04 463.70 161.90 464.70 161.55 465.70 161.31 466.70 161.16 467.70 161.09 468.70 160.97 469.70 160.77 470.70 160.63 471.70 160.57 472.70 160.46 473.70 160.50 474.70 160.47 475.70 160.44 476.70 160.28 477.70 160.02 478.70 159.76 479.70 159.72 480.70 159.70 481.70 159.68 482.70 159.13 483.70 158.55 484.70 158.39 485.70 157.97 486.70 157.75 487.70 157.24 488.70 156.66 489.70 156.25 490.70 155.76 491.70 155.64 492.70 155.35 493.70 155.05 494.70 154.53 495.70 153.93 496.70 153.40 497.70 153.15 498.70 152.90 499.70 152.23 500.70 151.63 501.70 151.01 502.70 151.14 503.70 150.93 504.70 150.86 505.70 150.60 506.70 150.19 507.70 149.73 508.70 149.30 509.70 149.01 510.70 148.66 511.70 148.20 512.70 148.08 513.70 147.81 514.70 147.79 515.70 147.59 516.70 147.50 517.70 147.41 518.70 147.19 519.70 147.28 520.70 147.24 521.70 147.21 522.70 146.83 523.70 146.62 524.70 146.46 525.70 146.62 526.70 146.55 527.70 146.38 528.70 146.02 529.70 145.77 530.70 145.82 531.70 145.93 532.70 146.10 533.70 146.07 534.70 145.66 535.70 145.23 536.70 144.77 537.70 144.18 538.70 143.24 539.70 142.54 540.70 141.98 541.70 141.84 542.70 141.24 543.70 140.69 544.70 139.79 545.70 139.12 546.70 138.64 547.70 138.07 548.70 137.74 549.70 137.00 550.70 136.31 551.70 135.78 552.70 135.21 553.70 134.59 554.70 134.11 555.70 133.96 556.70 133.69 557.70 133.02 558.70 132.17 559.70 131.58 560.70 131.11 561.70 130.40 562.70 129.92 563.70 129.57 564.70 129.34 565.70 128.94 566.70 128.26 567.70 127.63 568.70 126.96 569.70 126.28 570.70 125.56 571.70 124.82 572.70 124.30 573.70 123.77 574.70 123.50 575.70 123.17 576.70 122.90 577.70 122.48 578.70 121.86 579.70 121.37 580.70 120.90 581.70 120.53 582.70 120.26 583.70 119.81 584.70 119.61 585.70 119.13 586.70 118.88 587.70 118.43 588.70 118.06 589.70 117.70 590.70 117.13 591.70 116.87 592.70 116.55 593.70 116.33 594.70 115.77 595.70 115.44 596.70 114.92 597.70 114.67 598.70 114.23 599.70 114.19 600.70 113.78 601.70 113.41 602.70 112.90 603.70 112.49 604.70 112.04 605.70 111.39 606.70 108.89 607.70 106.29 608.70 103.32 609.70 99.40 610.70 95.75 611.70 94.87 612.70 94.24 613.70 93.49 614.70 93.01 615.70 92.34 616.70 92.07 617.70 91.57 618.70 90.84 619.70 89.97 620.70 89.29 621.70 88.66 622.70 87.76 623.70 86.72 624.70 86.02 625.70 85.39 626.70 84.74 627.70 84.02 628.70 83.42 629.70 82.91 630.70 82.42 631.70 81.75 632.70 81.03 633.70 80.06 634.70 79.46 635.70 78.58 636.70 78.07 637.70 77.47 638.70 76.97 639.70 76.20 640.70 75.41 641.70 74.75 642.70 74.12 643.70 73.76 644.70 73.67 645.70 73.61 646.70 73.35 647.70 72.74 648.70 72.34 649.70 71.79 650.70 71.72 651.70 71.47 652.70 71.25 653.70 70.72 654.70 70.12 655.70 69.65 656.70 69.20 657.70 69.04 658.70 68.90 659.70 68.63 660.70 68.14 661.70 67.87 662.70 67.82 663.70 67.53 664.70 67.09 665.70 66.41 666.70 66.09 667.70 65.56 668.70 65.36 669.70 64.91 670.70 64.59 671.70 64.17 672.70 63.95" stroke="#a874e6" stroke-width="1.0" fill="none"/>
<path d="M59.30 439.29 60.30 438.73 61.30 438.21 62.30 437.75 63.30 437.12 64.30 436.46 65.30 435.82 66.30 435.38 67.30 434.91 68.30 434.36 69.30 433.68 70.30 433.24 71.30 432.78 72.30 432.41 73.30 431.80 74.30 431.03 75.30 430.41 76.30 429.87 77.30 429.56 78.30 429.04 79.30 428.43 80.30 427.87 81.30 427.19 82.30 426.89 83.30 426.73 84.30 426.60 85.30 426.13 86.30 425.65 87.30 425.29 88.30 425.06 89.30 424.53 90.30 424.08 91.30 423.38 92.30 423.10 93.30 422.66 94.30 422.57 95.30 422.16 96.30 421.59 97.30 420.97 98.30 420.59 99.30 420.38 100.30 420.15 101.30 419.63 102.30 419.36 103.30 418.97 104.30 418.74 105.30 418.33 106.30 417.96 107.30 417.78 108.30 417.31 109.30 417.07 110.30 416.57 111.30 416.50 112.30 415.97 113.30 415.98 114.30 415.74 115.30 415.69 116.30 415.39 117.30 415.10 118.30 414.90 119.30 414.56 120.30 414.17 121.30 413.56 122.30 413.27 123.30 412.85 124.30 412.65 125.30 412.22 126.30 411.87 127.30 411.34 128.30 410.63 129.30 410.05 130.30 409.80 131.30 409.43 132.30 409.19 133.30 408.57 134.30 408.27 135.30 407.90 136.30 407.61 137.30 407.14 138.30 406.60 139.30 406.32 140.30 405.92 141.30 405.82 142.30 405.35 143.30 405.29 144.30 404.67 145.30 404.36 146.30 403.90 147.30 403.90 148.30 403.62 149.30 403.24 150.30 402.95 151.30 402.73 152.30 402.58 153.30 402.28 154.30 401.73 155.30 401.45 156.30 400.97 157.30 400.83 158.30 400.38 159.30 400.37 160.30 400.18 161.30 400.09 162.30 399.58 163.30 399.23 164.30 398.93 165.30 398.56 166.30 398.54 167.30 398.17 168.30 397.97 169.30 397.50 170.30 397.19 171.30 396.74 172.30 396.29 173.30 395.86 174.30 395.81 175.30 395.53 176.30 395.06 177.30 394.44 178.30 394.16 179.30 394.07 180.30 393.95 181.30 393.37 182.30 392.97 183.30 392.81 184.30 392.72 185.30 392.46 186.30 392.17 187.30 391.77 188.30 391.54 189.30 391.05 190.30 390.72 191.30 390.31 192.30 390.12 193.30 389.93 194.30 389.65 195.30 389.34 196.30 388.86 197.30 388.56 198.30 387.92 199.30 387.69 200.30 387.52 201.30 387.53 202.30 387.38 203.30 386.88 204.30 386.38 205.30 385.95 206.30 385.39 207.30 385.01 208.30 384.58 209.30 384.32 210.30 383.82 211.30 383.37 212.30 382.89 213.30 382.58 214.30 382.25 215.30 382.01 216.30 381.50 217.30 380.96 218.30 380.45 219.30 380.05 220.30 379.69 221.30 379.12 222.30 378.76 223.30 378.40 224.30 378.20 225.30 377.87 226.30 377.58 227.30 377.19 228.30 376.73 229.30 376.30 230.30 375.95 231.30 375.65 232.30 375.21 233.30 374.80 234.30 374.42 235.30 374.01 236.30 373.45 237.30 373.05 238.30 372.84 239.30 372.64 240.30 372.16 241.30 371.66 242.30 371.29 243.30 371.15 244.30 370.47 245.30 369.94 246.30 369.26 247.30 369.03 248.30 368.53 249.30 368.50 250.30 368.30 251.30 368.06 252.30 367.26 253.30 366.69 254.30 366.05 255.30 365.47 256.30 365.05 257.30 364.75 258.30 364.47 259.30 364.02 260.30 363.81 261.30 363.52 262.30 363.12 263.30 362.64 264.30 362.08 265.30 361.76 266.30 361.37 267.30 361.19 268.30 360.90 269.30 360.60 270.30 360.21 271.30 359.76 272.30 359.42 273.30 359.32 274.30 358.87 275.30 358.59 276.30 357.92 277.30 357.64 278.30 357.23 279.30 357.12 280.30 356.78 281.30 356.37 282.30 356.01 283.30 355.58 284.30 355.54 285.30 355.07 286.30 354.77 287.30 354.28 288.30 353.76 289.30 353.32 290.30 352.67 291.30 352.31 292.30 351.97 293.30 351.55 294.30 351.36 295.30 351.07 296.30 350.77 297.30 350.28 298.30 349.82 299.30 349.22 300.30 348.71 301.30 348.35 302.30 347.93 303.30 347.73 304.30 347.15 305.30 346.97 306.30 346.27 307.30 345.94 308.30 345.54 309.30 345.29 310.30 344.89 311.30 344.33 312.30 343.77 313.30 343.37 314.30 343.07 315.30 342.72 316.30 342.13 317.30 341.69 318.30 341.20 319.30 340.67 320.30 340.13 321.30 339.89 322.30 339.57 323.30 339.32 324.30 338.73" stroke="#333333" stroke-width="0.9" fill="none"/>
<path d="M59.30 451.51 60.30 450.79 61.30 450.13 62.30 449.81 63.30 449.32 64.30 449.00 65.30 448.45 66.30 448.15 67.30 447.50 68.30 447.01 69.30 446.48 70.30 445.66 71.30 445.30 72.30 444.84 73.30 444.68 74.30 444.28 75.30 443.81 76.30 443.49 77.30 442.71 78.30 442.25 79.30 441.65 80.30 441.40 81.30 441.12 82.30 440.86 83.30 440.43 84.30 440.12 85.30 439.89 86.30 440.02 87.30 439.91 88.30 439.48 89.30 439.15 90.30 438.50 91.30 438.35 92.30 438.14 93.30 438.17 94.30 437.78 95.30 437.56 96.30 437.29 97.30 437.22 98.30 436.91 99.30 436.79 100.30 436.52 101.30 436.23 102.30 435.74 103.30 435.45 104.30 435.10 105.30 434.92 106.30 434.66 107.30 434.25 108.30 434.05 109.30 433.78 110.30 433.44 111.30 432.90 112.30 432.60 113.30 432.43 114.30 432.39 115.30 432.18 116.30 431.88 117.30 431.29 118.30 430.88 119.30 430.65 120.30 430.58 121.30 430.06 122.30 429.62 123.30 429.32 124.30 429.19 125.30 429.06 126.30 428.37 127.30 427.77 128.30 427.20 129.30 426.83 130.30 426.54 131.30 426.21 132.30 426.01 133.30 425.63 134.30 425.28 135.30 425.11 136.30 424.91 137.30 424.48 138.30 424.10 139.30 423.61 140.30 423.31 141.30 422.80 142.30 422.58 143.30 422.28 144.30 421.80 145.30 421.29 146.30 420.82 147.30 420.54 148.30 420.41 149.30 420.26 150.30 420.05 151.30 419.82 152.30 419.40 153.30 419.02 154.30 418.67 155.30 418.34 156.30 418.16 157.30 417.59 158.30 417.08 159.30 416.59 160.30 416.25 161.30 415.88 162.30 415.68 163.30 414.99 164.30 414.78 165.30 414.34 166.30 414.33 167.30 414.01 168.30 413.78 169.30 413.43 170.30 412.95 171.30 412.40 172.30 412.30 173.30 412.23 174.30 411.71 175.30 411.18 176.30 410.60 177.30 410.71 178.30 410.45 179.30 409.92 180.30 409.44 181.30 408.79 182.30 408.59 183.30 407.91 184.30 407.67 185.30 407.34 186.30 407.00 187.30 406.57 188.30 406.07 189.30 406.05 190.30 405.85 191.30 405.48 192.30 404.78 193.30 404.28 194.30 403.85 195.30 403.67 196.30 403.16 197.30 402.98 198.30 402.45 199.30 402.32 200.30 402.01 201.30 401.67 202.30 401.09 203.30 400.49 204.30 400.25 205.30 399.98 206.30 399.76 207.30 399.20 208.30 398.62 209.30 398.16 210.30 397.79 211.30 397.53 212.30 396.96 213.30 396.44 214.30 395.89 215.30 395.65 216.30 395.32 217.30 394.99 218.30 394.61 219.30 394.18 220.30 394.11 221.30 393.64 222.30 393.45 223.30 392.68 224.30 392.23 225.30 391.79 226.30 391.37 227.30 390.94 228.30 390.50 229.30 390.16 230.30 389.92 231.30 389.52 232.30 389.17 233.30 388.55 234.30 388.18 235.30 387.89 236.30 387.54 237.30 387.03 238.30 386.54 239.30 386.12 240.30 385.55 241.30 384.89 242.30 384.77 243.30 384.59 244.30 384.40 245.30 383.84 246.30 383.46 247.30 383.42 248.30 382.93 249.30 382.54 250.30 381.77 251.30 381.33 252.30 380.87 253.30 380.67 254.30 380.35 255.30 379.90 256.30 379.36 257.30 378.90 258.30 378.30 259.30 377.87 260.30 377.34 261.30 377.19 262.30 376.80 263.30 376.69 264.30 376.22 265.30 376.04 266.30 375.53 267.30 375.12 268.30 374.46 269.30 374.10 270.30 374.05 271.30 373.87 272.30 373.45 273.30 373.00 274.30 372.52 275.30 371.99 276.30 371.20 277.30 370.64 278.30 370.42 279.30 370.25 280.30 369.90 281.30 369.31 282.30 368.85 283.30 368.36 284.30 368.34 285.30 367.90 286.30 367.64 287.30 367.34 288.30 367.08 289.30 366.89 290.30 366.35 291.30 366.28 292.30 366.15 293.30 365.98 294.30 365.39 295.30 364.68 296.30 364.53 297.30 364.23 298.30 364.00 299.30 363.57 300.30 363.44 301.30 363.25 302.30 362.75 303.30 362.48 304.30 362.30 305.30 361.93 306.30 361.55 307.30 360.93 308.30 360.34 309.30 359.83 310.30 359.77 311.30 359.62 312.30 359.25 313.30 358.46 314.30 358.20 315.30 357.75 316.30 357.42 317.30 356.86 318.30 356.29 319.30 356.01 320.30 355.59 321.30 355.46 322.30 354.84 323.30 354.60 324.30 354.21" stroke="#ee3b3b" stroke-width="0.9" fill="none"/>
<path d="M59.30 453.65 60.30 452.82 61.30 452.25 62.30 451.72 63.30 451.65 64.30 451.28 65.30 450.85 66.30 450.37 67.30 449.83 68.30 449.26 69.30 448.19 70.30 447.34 71.30 446.74 72.30 446.29 73.30 445.97 74.30 445.37 75.30 444.97 76.30 444.22 77.30 443.89 78.30 443.23 79.30 442.81 80.30 442.44 81.30 442.30 82.30 441.76 83.30 441.29 84.30 440.71 85.30 440.62 86.30 440.17 87.30 439.84 88.30 439.37 89.30 439.13 90.30 438.89 91.30 438.45 92.30 438.03 93.30 437.76 94.30 437.50 95.30 437.30 96.30 436.76 97.30 436.43 98.30 435.90 99.30 435.64 100.30 435.42 101.30 434.96 102.30 434.73 103.30 434.35 104.30 434.20 105.30 433.59 106.30 433.04 107.30 432.63 108.30 432.69 109.30 432.59 110.30 432.32 111.30 431.76 112.30 431.30 113.30 430.85 114.30 430.70 115.30 430.54 116.30 430.38 117.30 430.17 118.30 429.88 119.30 429.59 120.30 429.03 121.30 428.68 122.30 428.34 123.30 428.30 124.30 427.91 125.30 427.43 126.30 426.96 127.30 426.56 128.30 426.30 129.30 426.04 130.30 425.61 131.30 425.34 132.30 424.78 133.30 424.53 134.30 424.29 135.30 424.18 136.30 423.93 137.30 423.62 138.30 423.06 139.30 422.55 140.30 421.95 141.30 421.79 142.30 421.59 143.30 421.37 144.30 420.86 145.30 420.61 146.30 420.32 147.30 420.01 148.30 419.53 149.30 418.98 150.30 418.76 151.30 418.51 152.30 418.32 153.30 417.91 154.30 417.46 155.30 417.17 156.30 416.76 157.30 416.43 158.30 416.06 159.30 415.74 160.30 415.44 161.30 415.15 162.30 414.96 163.30 414.57 164.30 414.22 165.30 413.77 166.30 413.75 167.30 413.56 168.30 413.35 169.30 412.86 170.30 412.72 171.30 412.65 172.30 412.38 173.30 412.02 174.30 411.69 175.30 411.51 176.30 411.50 177.30 411.23 178.30 410.98 179.30 410.50 180.30 410.27 181.30 410.23 182.30 410.02 183.30 409.66 184.30 409.25 185.30 408.96 186.30 408.77 187.30 408.49 188.30 408.18 189.30 407.93 190.30 407.75 191.30 407.68 192.30 407.58 193.30 407.22 194.30 406.68 195.30 406.22 196.30 405.82 197.30 405.80 198.30 405.58 199.30 405.73 200.30 405.39 201.30 405.12 202.30 404.57 203.30 404.33 204.30 404.13 205.30 403.62 206.30 403.12 207.30 402.64 208.30 402.51 209.30 401.96 210.30 401.47 211.30 401.04 212.30 400.74 213.30 400.26 214.30 399.98 215.30 399.52 216.30 399.14 217.30 398.59 218.30 398.14 219.30 397.75 220.30 397.19 221.30 396.72 222.30 396.32 223.30 395.69 224.30 395.23 225.30 394.78 226.30 394.51 227.30 394.04 228.30 393.47 229.30 392.90 230.30 392.52 231.30 391.95 232.30 391.50 233.30 391.01 234.30 390.69 235.30 390.33 236.30 389.85 237.30 389.41 238.30 389.00 239.30 388.65 240.30 388.24 241.30 387.81 242.30 387.21 243.30 386.70 244.30 386.32 245.30 385.88 246.30 385.41 247.30 384.78 248.30 384.60 249.30 384.35 250.30 384.13 251.30 383.42 252.30 382.99 253.30 382.41 254.30 382.34 255.30 381.85 256.30 381.70 257.30 381.22 258.30 380.70 259.30 380.13 260.30 379.63 261.30 379.32 262.30 378.95 263.30 378.47 264.30 378.19 265.30 377.73 266.30 377.41 267.30 376.98 268.30 376.66 269.30 376.36 270.30 375.90 271.30 375.42 272.30 374.85 273.30 374.76 274.30 374.54 275.30 374.23 276.30 373.73 277.30 373.14 278.30 372.64 279.30 372.15 280.30 371.99 281.30 371.66 282.30 371.43 283.30 370.92 284.30 370.46 285.30 369.77 286.30 369.41 287.30 369.29 288.30 369.04 289.30 368.55 290.30 367.91 291.30 367.58 292.30 367.33 293.30 367.14 294.30 366.61 295.30 366.04 296.30 365.73 297.30 365.58 298.30 365.35 299.30 364.94 300.30 364.57 301.30 364.57 302.30 364.22 303.30 363.68 304.30 363.10 305.30 362.74 306.30 362.54 307.30 362.33 308.30 362.12 309.30 361.76 310.30 361.32 311.30 360.84 312.30 360.67 313.30 360.23 314.30 360.17 315.30 359.67 316.30 359.12 317.30 358.38 318.30 357.82 319.30 357.66 320.30 357.54 321.30 357.44 322.30 357.26 323.30 356.99 324.30 356.63" stroke="#2a6fdd" stroke-width="0.9" fill="none"/>
<path d="M59.30 449.51 60.30 448.91 61.30 448.52 62.30 448.00 63.30 447.79 64.30 447.14 65.30 446.60 66.30 445.76 67.30 445.43 68.30 444.91 69.30 444.69 70.30 444.05 71.30 443.77 72.30 443.37 73.30 442.87 74.30 441.92 75.30 441.27 76.30 440.94 77.30 440.79 78.30 440.22 79.30 439.78 80.30 439.19 81.30 438.78 82.30 438.46 83.30 438.18 84.30 437.78 85.30 437.15 86.30 436.94 87.30 436.37 88.30 435.93 89.30 435.51 90.30 435.45 91.30 434.96 92.30 434.51 93.30 433.94 94.30 433.72 95.30 433.45 96.30 432.90 97.30 432.35 98.30 431.74 99.30 431.27 100.30 430.78 101.30 430.44 102.30 430.40 103.30 430.27 104.30 429.89 105.30 429.46 106.30 429.15 107.30 428.90 108.30 428.38 109.30 427.79 110.30 427.49 111.30 427.10 112.30 427.03 113.30 426.66 114.30 426.42 115.30 425.97 116.30 425.62 117.30 425.31 118.30 424.85 119.30 424.50 120.30 424.25 121.30 424.02 122.30 423.37 123.30 422.89 124.30 422.31 125.30 422.10 126.30 421.57 127.30 421.00 128.30 420.47 129.30 419.86 130.30 419.41 131.30 418.90 132.30 418.79 133.30 418.28 134.30 417.80 135.30 417.16 136.30 416.64 137.30 416.29 138.30 415.82 139.30 415.57 140.30 415.09 141.30 414.63 142.30 414.18 143.30 413.97 144.30 413.76 145.30 413.68 146.30 413.34 147.30 413.04 148.30 412.46 149.30 412.16 150.30 411.75 151.30 411.45 152.30 410.93 153.30 410.72 154.30 410.50 155.30 410.06 156.30 409.72 157.30 409.23 158.30 408.97 159.30 408.49 160.30 408.12 161.30 407.81 162.30 407.60 163.30 407.34 164.30 406.89 165.30 406.54 166.30 406.41 167.30 406.34 168.30 405.97 169.30 405.63 170.30 405.29 171.30 404.91 172.30 404.52 173.30 403.93 174.30 403.74 175.30 403.52 176.30 403.43 177.30 403.24 178.30 402.87 179.30 402.39 180.30 401.98 181.30 401.84 182.30 401.54 183.30 401.51 184.30 401.04 185.30 400.89 186.30 400.24 187.30 400.13 188.30 399.49 189.30 399.37 190.30 399.09 191.30 399.18 192.30 398.87 193.30 398.64 194.30 398.20 195.30 397.97 196.30 397.35 197.30 397.22 198.30 396.98 199.30 396.71 200.30 396.47 201.30 395.90 202.30 395.69 203.30 395.43 204.30 395.33 205.30 394.97 206.30 394.46 207.30 394.00 208.30 393.58 209.30 393.10 210.30 392.90 211.30 392.54 212.30 392.09 213.30 391.78 214.30 391.41 215.30 391.04 216.30 390.27 217.30 389.72 218.30 389.49 219.30 389.19 220.30 388.62 221.30 387.91 222.30 387.35 223.30 387.01 224.30 386.70 225.30 386.25 226.30 386.09 227.30 385.85 228.30 385.55 229.30 384.85 230.30 384.23 231.30 383.62 232.30 383.33 233.30 382.95 234.30 382.58 235.30 382.23 236.30 381.82 237.30 381.34 238.30 380.89 239.30 380.45 240.30 380.14 241.30 379.71 242.30 379.24 243.30 378.89 244.30 378.33 245.30 378.19 246.30 377.70 247.30 377.40 248.30 376.52 249.30 375.94 250.30 375.19 251.30 374.70 252.30 374.23 253.30 374.04 254.30 373.68 255.30 373.19 256.30 372.39 257.30 371.59 258.30 371.23 259.30 370.68 260.30 370.35 261.30 369.62 262.30 369.04 263.30 368.42 264.30 367.93 265.30 367.54 266.30 367.19 267.30 366.77 268.30 366.41 269.30 365.94 270.30 365.39 271.30 364.67 272.30 364.12 273.30 363.84 274.30 363.68 275.30 363.21 276.30 362.25 277.30 361.57 278.30 361.15 279.30 360.73 280.30 360.48 281.30 359.82 282.30 359.39 283.30 358.67 284.30 358.33 285.30 357.89 286.30 357.88 287.30 357.30 288.30 357.05 289.30 356.45 290.30 356.13 291.30 355.65 292.30 355.11 293.30 354.80 294.30 354.52 295.30 354.45 296.30 354.13 297.30 353.82 298.30 353.29 299.30 352.85 300.30 352.39 301.30 352.06 302.30 352.17 303.30 351.90 304.30 351.54 305.30 350.97 306.30 350.73 307.30 350.42 308.30 350.09 309.30 349.33 310.30 348.88 311.30 348.34 312.30 348.27 313.30 348.02 314.30 347.83 315.30 347.49 316.30 347.15 317.30 346.72 318.30 346.45 319.30 346.07 320.30 345.59 321.30 345.27 322.30 344.91 323.30 344.86 324.30 344.43" stroke="#2f9e5e" stroke-width="0.9" fill="none"/>
<path d="M59.30 447.96 60.30 447.38 61.30 446.93 62.30 446.33 63.30 445.70 64.30 445.16 65.30 444.62 66.30 444.24 67.30 443.66 68.30 443.07 69.30 442.37 70.30 441.88 71.30 441.40 72.30 440.68 73.30 439.95 74.30 439.48 75.30 439.07 76.30 438.18 77.30 437.34 78.30 436.81 79.30 436.75 80.30 436.52 81.30 435.87 82.30 435.25 83.30 434.79 84.30 434.66 85.30 434.16 86.30 433.56 87.30 433.13 88.30 433.10 89.30 432.77 90.30 432.33 91.30 431.64 92.30 431.33 93.30 430.71 94.30 430.22 95.30 429.61 96.30 429.42 97.30 429.39 98.30 429.21 99.30 428.78 100.30 428.07 101.30 427.56 102.30 427.45 103.30 427.19 104.30 426.91 105.30 426.37 106.30 425.69 107.30 425.21 108.30 424.74 109.30 424.73 110.30 424.46 111.30 424.09 112.30 423.57 113.30 422.99 114.30 422.45 115.30 421.92 116.30 421.60 117.30 421.11 118.30 420.85 119.30 420.36 120.30 420.10 121.30 419.73 122.30 419.72 123.30 419.37 124.30 418.76 125.30 418.43 126.30 418.20 127.30 418.10 128.30 417.38 129.30 416.87 130.30 416.61 131.30 416.65 132.30 416.50 133.30 416.25 134.30 415.69 135.30 415.12 136.30 414.41 137.30 414.15 138.30 413.65 139.30 413.47 140.30 413.21 141.30 413.22 142.30 412.71 143.30 412.29 144.30 411.66 145.30 411.26 146.30 410.68 147.30 410.41 148.30 410.55 149.30 410.24 150.30 409.78 151.30 408.93 152.30 408.45 153.30 408.23 154.30 407.94 155.30 407.59 156.30 407.11 157.30 406.98 158.30 406.57 159.30 406.39 160.30 405.79 161.30 405.53 162.30 405.43 163.30 405.41 164.30 405.30 165.30 404.89 166.30 404.48 167.30 404.22 168.30 403.79 169.30 403.82 170.30 403.67 171.30 403.65 172.30 403.27 173.30 402.91 174.30 402.69 175.30 402.41 176.30 402.17 177.30 401.83 178.30 401.66 179.30 401.34 180.30 401.15 181.30 400.60 182.30 400.53 183.30 400.39 184.30 400.42 185.30 399.92 186.30 399.53 187.30 399.28 188.30 399.13 189.30 398.79 190.30 398.42 191.30 398.20 192.30 398.03 193.30 397.66 194.30 397.17 195.30 396.67 196.30 396.41 197.30 396.16 198.30 395.84 199.30 395.51 200.30 395.31 201.30 394.95 202.30 394.57 203.30 394.36 204.30 394.27 205.30 394.15 206.30 393.47 207.30 392.86 208.30 392.68 209.30 392.36 210.30 392.05 211.30 391.41 212.30 390.90 213.30 390.28 214.30 389.73 215.30 389.41 216.30 389.17 217.30 388.68 218.30 387.99 219.30 387.34 220.30 386.83 221.30 386.53 222.30 386.12 223.30 385.79 224.30 385.38 225.30 385.03 226.30 384.54 227.30 384.03 228.30 383.47 229.30 382.89 230.30 382.45 231.30 382.00 232.30 381.64 233.30 381.25 234.30 380.92 235.30 380.68 236.30 380.17 237.30 379.41 238.30 378.60 239.30 378.02 240.30 378.01 241.30 377.67 242.30 377.42 243.30 376.77 244.30 376.20 245.30 375.62 246.30 375.32 247.30 375.17 248.30 374.67 249.30 374.10 250.30 373.37 251.30 373.09 252.30 372.62 253.30 372.07 254.30 371.60 255.30 371.03 256.30 370.59 257.30 369.95 258.30 369.57 259.30 369.10 260.30 368.65 261.30 367.88 262.30 367.59 263.30 367.10 264.30 366.97 265.30 366.48 266.30 365.85 267.30 365.31 268.30 364.74 269.30 364.40 270.30 363.97 271.30 363.44 272.30 362.88 273.30 362.39 274.30 362.11 275.30 361.74 276.30 361.19 277.30 360.75 278.30 360.25 279.30 359.70 280.30 359.16 281.30 358.89 282.30 358.65 283.30 358.11 284.30 357.41 285.30 356.39 286.30 356.02 287.30 355.78 288.30 355.76 289.30 355.24 290.30 354.69 291.30 354.43 292.30 354.18 293.30 353.60 294.30 353.17 295.30 352.76 296.30 352.52 297.30 352.37 298.30 352.01 299.30 351.85 300.30 351.18 301.30 350.68 302.30 350.28 303.30 350.00 304.30 349.64 305.30 349.19 306.30 348.71 307.30 348.29 308.30 348.01 309.30 347.73 310.30 347.53 311.30 347.12 312.30 346.73 313.30 346.21 314.30 345.73 315.30 345.51 316.30 345.22 317.30 344.90 318.30 344.31 319.30 344.01 320.30 343.89 321.30 343.74 322.30 343.30 323.30 342.87 324.30 342.25" stroke="#a874e6" stroke-width="0.9" fill="none"/>
<path d="M406.20 444.72 L408.60 451.68 L411.15 453.82 L413.55 452.26 L416.10 454.16 L418.50 441.92 L421.05 444.90 L423.45 443.35 L426.00 447.32 L428.40 448.26 L430.95 447.09 L433.35 452.53 L435.90 452.88 L438.30 449.77 L440.85 445.34 L443.25 446.03 L445.80 446.37 L448.20 438.57 L450.75 427.01 L453.15 434.52 L455.70 443.71 L458.10 442.12 L460.65 431.11 L463.05 433.67 L465.60 435.04 L468.00 433.39 L470.55 429.40 L472.95 430.46 L475.50 427.20 L477.90 425.13 L480.45 431.52 L482.85 429.40 L485.40 432.95 L487.80 435.61 L490.35 426.05 L492.75 429.65 L495.30 430.56 L497.70 438.26 L500.25 448.22 L502.65 451.23 L505.20 451.51 L507.60 450.15 L510.15 452.65 L512.55 455.36 L515.10 455.84 L517.50 445.85 L520.05 441.18 L522.45 434.41 L525.00 425.42 L527.40 418.30 L529.95 423.79 L532.35 427.55 L534.90 420.67 L537.30 416.61 L539.85 416.66 L542.25 409.61 L544.80 415.21 L547.20 419.07 L549.75 424.73 L552.15 426.00 L554.70 430.23 L557.10 427.62 L559.65 423.80 L562.05 417.86 L564.60 421.08 L567.00 426.22 L569.55 428.19 L571.95 443.86 L574.50 430.53 L576.90 422.54 L579.45 424.77 L581.85 428.42 L584.40 429.37 L586.80 428.59 L589.35 430.30 L591.75 426.28 L594.30 420.73 L596.70 410.63 L599.25 415.02 L601.65 412.87 L604.20 419.93 L606.60 420.43 L609.15 417.26 L611.55 418.63 L614.10 420.30 L616.50 418.66 L619.05 403.93 L621.45 401.95 L624.00 405.61 L626.40 404.74 L628.95 402.48 L631.35 410.85 L633.90 395.91 L636.30 398.78 L638.85 407.77 L641.25 405.70 L643.80 410.86 L646.20 407.27 L648.75 403.95 L651.15 410.49 L653.70 417.39 L656.10 419.31 L658.65 414.48 L661.05 414.42 L663.60 413.31 L666.00 409.61 L668.55 411.96" stroke="#8a8a8a" stroke-width="0.6" fill="none" opacity="0.4"/>
<path d="M406.20 411.00 L408.60 403.95 L411.15 395.21 L413.55 410.57 L416.10 404.82 L418.50 410.54 L421.05 406.09 L423.45 388.71 L426.00 393.59 L428.40 400.23 L430.95 408.00 L433.35 406.65 L435.90 412.29 L438.30 422.18 L440.85 427.09 L443.25 423.21 L445.80 420.72 L448.20 429.71 L450.75 423.24 L453.15 428.05 L455.70 425.41 L458.10 425.41 L460.65 418.28 L463.05 423.70 L465.60 427.62 L468.00 425.60 L470.55 423.89 L472.95 427.29 L475.50 427.97 L477.90 430.35 L480.45 422.38 L482.85 429.58 L485.40 432.52 L487.80 429.91 L490.35 430.12 L492.75 433.23 L495.30 426.13 L497.70 429.87 L500.25 432.07 L502.65 434.18 L505.20 436.91 L507.60 435.88 L510.15 441.17 L512.55 429.35 L515.10 422.06 L517.50 427.43 L520.05 437.88 L522.45 425.99 L525.00 436.45 L527.40 439.37 L529.95 434.17 L532.35 434.26 L534.90 429.81 L537.30 436.35 L539.85 444.60 L542.25 441.83 L544.80 430.69 L547.20 438.53 L549.75 442.87 L552.15 447.16 L554.70 448.49 L557.10 430.48 L559.65 432.28 L562.05 435.84 L564.60 441.27 L567.00 440.98 L569.55 436.43 L571.95 448.14 L574.50 446.96 L576.90 458.73 L579.45 455.79 L581.85 463.88 L584.40 460.57 L586.80 445.89 L589.35 440.51 L591.75 436.71 L594.30 450.49 L596.70 454.54 L599.25 454.04 L601.65 454.02 L604.20 453.78 L606.60 452.09 L609.15 442.70 L611.55 438.05 L614.10 434.41 L616.50 437.77 L619.05 439.38 L621.45 431.79 L624.00 436.20 L626.40 438.23 L628.95 436.68 L631.35 437.18 L633.90 441.24 L636.30 448.58 L638.85 453.12 L641.25 454.47 L643.80 452.15 L646.20 450.23 L648.75 449.25 L651.15 449.89 L653.70 447.99 L656.10 444.50 L658.65 441.12 L661.05 446.30 L663.60 445.42 L666.00 452.26 L668.55 455.08" stroke="#f06a6a" stroke-width="0.6" fill="none" opacity="0.4"/>
<path d="M406.20 458.69 L408.60 455.22 L411.15 456.12 L413.55 464.55 L416.10 477.68 L418.50 484.71 L421.05 477.78 L423.45 482.97 L426.00 488.98 L428.40 487.50 L430.95 478.09 L433.35 477.70 L435.90 474.16 L438.30 466.88 L440.85 464.11 L443.25 467.36 L445.80 476.61 L448.20 478.76 L450.75 479.95 L453.15 468.74 L455.70 455.47 L458.10 457.04 L460.65 453.68 L463.05 451.98 L465.60 460.41 L468.00 453.38 L470.55 451.11 L472.95 452.04 L475.50 453.73 L477.90 459.53 L480.45 452.52 L482.85 444.33 L485.40 455.03 L487.80 459.13 L490.35 459.71 L492.75 452.34 L495.30 449.30 L497.70 448.98 L500.25 445.21 L502.65 434.49 L505.20 427.71 L507.60 426.68 L510.15 422.73 L512.55 418.65 L515.10 402.05 L517.50 405.75 L520.05 406.61 L522.45 415.30 L525.00 420.52 L527.40 418.07 L529.95 412.63 L532.35 413.83 L534.90 421.03 L537.30 424.64 L539.85 423.90 L542.25 426.96 L544.80 431.68 L547.20 428.46 L549.75 431.72 L552.15 433.73 L554.70 436.05 L557.10 432.59 L559.65 430.95 L562.05 431.69 L564.60 426.39 L567.00 425.61 L569.55 425.16 L571.95 423.26 L574.50 425.59 L576.90 428.97 L579.45 420.71 L581.85 424.13 L584.40 419.65 L586.80 420.35 L589.35 410.90 L591.75 408.63 L594.30 401.49 L596.70 394.87 L599.25 389.13 L601.65 380.97 L604.20 376.17 L606.60 380.24 L609.15 386.54 L611.55 393.64 L614.10 393.15 L616.50 398.59 L619.05 403.13 L621.45 399.79 L624.00 408.31 L626.40 408.96 L628.95 409.93 L631.35 407.35 L633.90 416.10 L636.30 425.83 L638.85 434.23 L641.25 426.52 L643.80 428.43 L646.20 427.46 L648.75 436.60 L651.15 438.83 L653.70 440.11 L656.10 431.82 L658.65 424.15 L661.05 421.97 L663.60 433.09 L666.00 437.16 L668.55 435.25" stroke="#4a86e8" stroke-width="0.6" fill="none" opacity="0.4"/>
<path d="M406.20 432.74 L408.60 444.54 L411.15 439.03 L413.55 435.28 L416.10 443.39 L418.50 453.78 L421.05 449.61 L423.45 442.37 L426.00 440.62 L428.40 442.89 L430.95 449.10 L433.35 446.87 L435.90 446.07 L438.30 443.14 L440.85 451.77 L443.25 455.42 L445.80 448.67 L448.20 454.13 L450.75 455.64 L453.15 453.47 L455.70 457.31 L458.10 454.48 L460.65 453.87 L463.05 446.96 L465.60 452.19 L468.00 449.27 L470.55 449.13 L472.95 450.39 L475.50 444.16 L477.90 437.29 L480.45 444.14 L482.85 440.54 L485.40 440.43 L487.80 442.81 L490.35 444.01 L492.75 446.54 L495.30 440.68 L497.70 447.78 L500.25 444.09 L502.65 436.53 L505.20 432.63 L507.60 436.32 L510.15 445.93 L512.55 442.78 L515.10 436.02 L517.50 434.66 L520.05 436.19 L522.45 436.56 L525.00 439.42 L527.40 442.64 L529.95 437.22 L532.35 446.70 L534.90 442.65 L537.30 441.55 L539.85 438.32 L542.25 436.50 L544.80 436.21 L547.20 439.60 L549.75 438.41 L552.15 437.77 L554.70 452.22 L557.10 448.78 L559.65 445.48 L562.05 438.03 L564.60 439.07 L567.00 452.58 L569.55 446.98 L571.95 445.60 L574.50 438.46 L576.90 449.49 L579.45 459.39 L581.85 448.78 L584.40 439.73 L586.80 435.16 L589.35 450.72 L591.75 453.25 L594.30 450.07 L596.70 450.09 L599.25 437.08 L601.65 438.90 L604.20 446.55 L606.60 450.74 L609.15 449.47 L611.55 449.91 L614.10 444.57 L616.50 436.90 L619.05 441.61 L621.45 446.56 L624.00 444.02 L626.40 446.21 L628.95 437.56 L631.35 438.32 L633.90 437.24 L636.30 435.27 L638.85 433.81 L641.25 438.92 L643.80 437.72 L646.20 426.51 L648.75 427.63 L651.15 432.88 L653.70 437.39 L656.10 437.39 L658.65 428.96 L661.05 421.91 L663.60 424.80 L666.00 432.82 L668.55 432.89" stroke="#45a86a" stroke-width="0.6" fill="none" opacity="0.4"/>
<path d="M406.20 465.49 L408.60 462.77 L411.15 463.39 L413.55 451.79 L416.10 456.83 L418.50 461.19 L421.05 466.40 L423.45 460.21 L426.00 461.79 L428.40 465.20 L430.95 466.06 L433.35 462.58 L435.90 468.47 L438.30 465.10 L440.85 453.34 L443.25 457.56 L445.80 467.70 L448.20 465.12 L450.75 459.69 L453.15 457.96 L455.70 460.99 L458.10 457.06 L460.65 455.72 L463.05 460.11 L465.60 454.97 L468.00 457.31 L470.55 457.92 L472.95 461.40 L475.50 468.04 L477.90 465.31 L480.45 472.59 L482.85 471.91 L485.40 461.95 L487.80 467.99 L490.35 468.16 L492.75 462.15 L495.30 458.76 L497.70 453.50 L500.25 446.29 L502.65 447.06 L505.20 456.08 L507.60 451.61 L510.15 455.27 L512.55 448.05 L515.10 447.44 L517.50 449.76 L520.05 449.24 L522.45 449.95 L525.00 448.28 L527.40 439.70 L529.95 437.08 L532.35 437.18 L534.90 431.37 L537.30 437.76 L539.85 437.87 L542.25 438.08 L544.80 436.90 L547.20 440.11 L549.75 435.02 L552.15 437.37 L554.70 442.02 L557.10 443.27 L559.65 445.42 L562.05 440.37 L564.60 431.53 L567.00 434.23 L569.55 437.19 L571.95 440.58 L574.50 437.61 L576.90 431.40 L579.45 435.21 L581.85 441.06 L584.40 435.49 L586.80 426.51 L589.35 423.77 L591.75 424.95 L594.30 427.45 L596.70 424.24 L599.25 432.06 L601.65 429.24 L604.20 421.63 L606.60 421.24 L609.15 410.67 L611.55 418.12 L614.10 417.00 L616.50 421.78 L619.05 419.89 L621.45 410.47 L624.00 413.50 L626.40 407.06 L628.95 406.87 L631.35 410.92 L633.90 418.67 L636.30 406.34 L638.85 401.48 L641.25 411.02 L643.80 411.57 L646.20 410.54 L648.75 408.02 L651.15 404.18 L653.70 400.53 L656.10 409.50 L658.65 414.58 L661.05 407.94 L663.60 408.92 L666.00 400.53 L668.55 399.40" stroke="#b48be8" stroke-width="0.6" fill="none" opacity="0.4"/>
<path d="M406.20 432.13V452.31" stroke="#8a8a8a" stroke-width="1.0" opacity="0.85"/>
<path d="M406.20 400.39V422.98" stroke="#f06a6a" stroke-width="1.0" opacity="0.88"/>
<path d="M406.20 446.88V480.34" stroke="#b48be8" stroke-width="1.0" opacity="0.52"/>
<path d="M406.20 449.13V469.47" stroke="#4a86e8" stroke-width="1.0" opacity="0.47"/>
<path d="M411.15 436.46V468.67" stroke="#8a8a8a" stroke-width="1.0" opacity="0.78"/>
<path d="M411.15 449.80V466.03" stroke="#4a86e8" stroke-width="1.0" opacity="0.54"/>
<path d="M411.15 387.29V406.87" stroke="#f06a6a" stroke-width="1.0" opacity="0.65"/>
<path d="M411.15 454.19V474.80" stroke="#b48be8" stroke-width="1.0" opacity="0.53"/>
<path d="M416.10 398.23V411.99" stroke="#f06a6a" stroke-width="1.0" opacity="0.55"/>
<path d="M416.10 447.11V461.27" stroke="#8a8a8a" stroke-width="1.0" opacity="0.67"/>
<path d="M416.10 469.24V485.67" stroke="#4a86e8" stroke-width="1.0" opacity="0.57"/>
<path d="M416.10 429.49V456.23" stroke="#45a86a" stroke-width="1.0" opacity="0.54"/>
<path d="M421.05 468.19V488.67" stroke="#4a86e8" stroke-width="1.0" opacity="0.76"/>
<path d="M421.05 451.99V475.32" stroke="#b48be8" stroke-width="1.0" opacity="0.54"/>
<path d="M421.05 429.49V460.28" stroke="#8a8a8a" stroke-width="1.0" opacity="0.71"/>
<path d="M421.05 396.05V419.76" stroke="#f06a6a" stroke-width="1.0" opacity="0.59"/>
<path d="M421.05 443.20V460.64" stroke="#45a86a" stroke-width="1.0" opacity="0.77"/>
<path d="M426.00 430.82V451.73" stroke="#45a86a" stroke-width="1.0" opacity="0.80"/>
<path d="M426.00 477.97V496.61" stroke="#4a86e8" stroke-width="1.0" opacity="0.69"/>
<path d="M426.00 435.24V458.02" stroke="#8a8a8a" stroke-width="1.0" opacity="0.61"/>
<path d="M426.00 451.05V470.51" stroke="#b48be8" stroke-width="1.0" opacity="0.58"/>
<path d="M426.00 379.91V411.69" stroke="#f06a6a" stroke-width="1.0" opacity="0.84"/>
<path d="M430.95 464.59V494.80" stroke="#4a86e8" stroke-width="1.0" opacity="0.77"/>
<path d="M430.95 453.45V476.83" stroke="#b48be8" stroke-width="1.0" opacity="0.47"/>
<path d="M430.95 397.27V422.98" stroke="#f06a6a" stroke-width="1.0" opacity="0.57"/>
<path d="M430.95 440.03V453.64" stroke="#8a8a8a" stroke-width="1.0" opacity="0.65"/>
<path d="M430.95 436.07V460.38" stroke="#45a86a" stroke-width="1.0" opacity="0.72"/>
<path d="M435.90 457.65V488.27" stroke="#4a86e8" stroke-width="1.0" opacity="0.65"/>
<path d="M435.90 429.40V463.04" stroke="#45a86a" stroke-width="1.0" opacity="0.55"/>
<path d="M435.90 400.27V429.15" stroke="#f06a6a" stroke-width="1.0" opacity="0.69"/>
<path d="M435.90 460.54V480.20" stroke="#b48be8" stroke-width="1.0" opacity="0.78"/>
<path d="M440.85 431.42V457.59" stroke="#8a8a8a" stroke-width="1.0" opacity="0.50"/>
<path d="M440.85 439.60V465.24" stroke="#b48be8" stroke-width="1.0" opacity="0.71"/>
<path d="M440.85 457.28V470.53" stroke="#4a86e8" stroke-width="1.0" opacity="0.53"/>
<path d="M440.85 414.05V440.22" stroke="#f06a6a" stroke-width="1.0" opacity="0.82"/>
<path d="M445.80 436.25V457.99" stroke="#45a86a" stroke-width="1.0" opacity="0.78"/>
<path d="M445.80 436.53V453.83" stroke="#8a8a8a" stroke-width="1.0" opacity="0.65"/>
<path d="M445.80 457.60V483.95" stroke="#b48be8" stroke-width="1.0" opacity="0.71"/>
<path d="M445.80 410.45V427.96" stroke="#f06a6a" stroke-width="1.0" opacity="0.70"/>
<path d="M450.75 416.45V437.08" stroke="#8a8a8a" stroke-width="1.0" opacity="0.68"/>
<path d="M450.75 448.99V472.55" stroke="#b48be8" stroke-width="1.0" opacity="0.49"/>
<path d="M450.75 470.70V491.57" stroke="#4a86e8" stroke-width="1.0" opacity="0.75"/>
<path d="M450.75 448.21V466.31" stroke="#45a86a" stroke-width="1.0" opacity="0.49"/>
<path d="M450.75 412.43V431.26" stroke="#f06a6a" stroke-width="1.0" opacity="0.88"/>
<path d="M455.70 446.14V465.78" stroke="#4a86e8" stroke-width="1.0" opacity="0.71"/>
<path d="M455.70 432.67V453.39" stroke="#8a8a8a" stroke-width="1.0" opacity="0.56"/>
<path d="M455.70 413.78V436.27" stroke="#f06a6a" stroke-width="1.0" opacity="0.49"/>
<path d="M455.70 448.45V467.07" stroke="#45a86a" stroke-width="1.0" opacity="0.73"/>
<path d="M455.70 447.72V468.91" stroke="#b48be8" stroke-width="1.0" opacity="0.76"/>
<path d="M460.65 422.71V445.66" stroke="#8a8a8a" stroke-width="1.0" opacity="0.81"/>
<path d="M460.65 443.76V470.86" stroke="#b48be8" stroke-width="1.0" opacity="0.47"/>
<path d="M460.65 441.15V466.21" stroke="#45a86a" stroke-width="1.0" opacity="0.64"/>
<path d="M460.65 445.33V465.38" stroke="#4a86e8" stroke-width="1.0" opacity="0.65"/>
<path d="M465.60 443.08V464.50" stroke="#45a86a" stroke-width="1.0" opacity="0.66"/>
<path d="M465.60 445.84V474.61" stroke="#4a86e8" stroke-width="1.0" opacity="0.75"/>
<path d="M465.60 420.30V447.76" stroke="#8a8a8a" stroke-width="1.0" opacity="0.52"/>
<path d="M465.60 411.69V438.73" stroke="#f06a6a" stroke-width="1.0" opacity="0.84"/>
<path d="M465.60 436.00V465.62" stroke="#b48be8" stroke-width="1.0" opacity="0.60"/>
<path d="M470.55 423.10V436.99" stroke="#8a8a8a" stroke-width="1.0" opacity="0.87"/>
<path d="M470.55 438.39V464.76" stroke="#4a86e8" stroke-width="1.0" opacity="0.58"/>
<path d="M470.55 440.26V456.31" stroke="#45a86a" stroke-width="1.0" opacity="0.52"/>
<path d="M470.55 449.53V464.47" stroke="#b48be8" stroke-width="1.0" opacity="0.79"/>
<path d="M470.55 415.75V433.81" stroke="#f06a6a" stroke-width="1.0" opacity="0.81"/>
<path d="M475.50 418.80V439.87" stroke="#8a8a8a" stroke-width="1.0" opacity="0.63"/>
<path d="M475.50 460.27V474.48" stroke="#b48be8" stroke-width="1.0" opacity="0.61"/>
<path d="M475.50 432.64V452.20" stroke="#45a86a" stroke-width="1.0" opacity="0.62"/>
<path d="M475.50 418.29V440.91" stroke="#f06a6a" stroke-width="1.0" opacity="0.85"/>
<path d="M475.50 445.57V461.18" stroke="#4a86e8" stroke-width="1.0" opacity="0.71"/>
<path d="M480.45 433.75V458.03" stroke="#45a86a" stroke-width="1.0" opacity="0.67"/>
<path d="M480.45 420.76V443.28" stroke="#8a8a8a" stroke-width="1.0" opacity="0.78"/>
<path d="M480.45 440.13V464.38" stroke="#4a86e8" stroke-width="1.0" opacity="0.61"/>
<path d="M480.45 410.34V440.44" stroke="#f06a6a" stroke-width="1.0" opacity="0.85"/>
<path d="M480.45 458.37V485.73" stroke="#b48be8" stroke-width="1.0" opacity="0.71"/>
<path d="M485.40 442.59V470.11" stroke="#4a86e8" stroke-width="1.0" opacity="0.77"/>
<path d="M485.40 425.47V440.67" stroke="#8a8a8a" stroke-width="1.0" opacity="0.60"/>
<path d="M485.40 431.96V452.41" stroke="#45a86a" stroke-width="1.0" opacity="0.62"/>
<path d="M485.40 451.13V470.83" stroke="#b48be8" stroke-width="1.0" opacity="0.83"/>
<path d="M490.35 414.06V438.70" stroke="#8a8a8a" stroke-width="1.0" opacity="0.51"/>
<path d="M490.35 441.38V473.92" stroke="#4a86e8" stroke-width="1.0" opacity="0.83"/>
<path d="M495.30 414.56V439.60" stroke="#f06a6a" stroke-width="1.0" opacity="0.90"/>
<path d="M495.30 429.15V454.73" stroke="#45a86a" stroke-width="1.0" opacity="0.53"/>
<path d="M495.30 439.05V458.61" stroke="#4a86e8" stroke-width="1.0" opacity="0.66"/>
<path d="M495.30 419.78V442.18" stroke="#8a8a8a" stroke-width="1.0" opacity="0.83"/>
<path d="M495.30 445.12V467.34" stroke="#b48be8" stroke-width="1.0" opacity="0.47"/>
<path d="M500.25 422.38V441.83" stroke="#f06a6a" stroke-width="1.0" opacity="0.83"/>
<path d="M500.25 437.81V456.55" stroke="#4a86e8" stroke-width="1.0" opacity="0.64"/>
<path d="M500.25 431.26V461.74" stroke="#8a8a8a" stroke-width="1.0" opacity="0.82"/>
<path d="M500.25 435.36V455.09" stroke="#b48be8" stroke-width="1.0" opacity="0.57"/>
<path d="M500.25 432.25V455.66" stroke="#45a86a" stroke-width="1.0" opacity="0.50"/>
<path d="M505.20 437.96V461.55" stroke="#8a8a8a" stroke-width="1.0" opacity="0.80"/>
<path d="M505.20 446.95V463.89" stroke="#b48be8" stroke-width="1.0" opacity="0.73"/>
<path d="M505.20 419.60V437.82" stroke="#4a86e8" stroke-width="1.0" opacity="0.46"/>
<path d="M505.20 428.82V444.73" stroke="#f06a6a" stroke-width="1.0" opacity="0.84"/>
<path d="M510.15 445.11V462.04" stroke="#8a8a8a" stroke-width="1.0" opacity="0.72"/>
<path d="M510.15 432.56V459.03" stroke="#45a86a" stroke-width="1.0" opacity="0.47"/>
<path d="M510.15 412.69V434.23" stroke="#4a86e8" stroke-width="1.0" opacity="0.56"/>
<path d="M510.15 433.24V452.90" stroke="#f06a6a" stroke-width="1.0" opacity="0.79"/>
<path d="M515.10 389.48V417.11" stroke="#4a86e8" stroke-width="1.0" opacity="0.57"/>
<path d="M515.10 440.83V457.72" stroke="#b48be8" stroke-width="1.0" opacity="0.56"/>
<path d="M515.10 406.31V436.38" stroke="#f06a6a" stroke-width="1.0" opacity="0.77"/>
<path d="M515.10 444.04V467.28" stroke="#8a8a8a" stroke-width="1.0" opacity="0.58"/>
<path d="M515.10 420.00V446.49" stroke="#45a86a" stroke-width="1.0" opacity="0.48"/>
<path d="M520.05 429.02V455.22" stroke="#8a8a8a" stroke-width="1.0" opacity="0.85"/>
<path d="M520.05 391.46V422.78" stroke="#4a86e8" stroke-width="1.0" opacity="0.64"/>
<path d="M520.05 438.81V459.84" stroke="#b48be8" stroke-width="1.0" opacity="0.81"/>
<path d="M520.05 422.26V446.21" stroke="#45a86a" stroke-width="1.0" opacity="0.48"/>
<path d="M520.05 422.69V454.26" stroke="#f06a6a" stroke-width="1.0" opacity="0.73"/>
<path d="M525.00 430.27V464.34" stroke="#b48be8" stroke-width="1.0" opacity="0.82"/>
<path d="M525.00 430.88V446.96" stroke="#45a86a" stroke-width="1.0" opacity="0.74"/>
<path d="M529.95 407.78V437.52" stroke="#8a8a8a" stroke-width="1.0" opacity="0.73"/>
<path d="M529.95 426.17V446.36" stroke="#45a86a" stroke-width="1.0" opacity="0.85"/>
<path d="M529.95 425.47V443.06" stroke="#f06a6a" stroke-width="1.0" opacity="0.58"/>
<path d="M529.95 429.47V445.66" stroke="#b48be8" stroke-width="1.0" opacity="0.60"/>
<path d="M529.95 402.89V424.43" stroke="#4a86e8" stroke-width="1.0" opacity="0.50"/>
<path d="M534.90 422.91V442.52" stroke="#b48be8" stroke-width="1.0" opacity="0.89"/>
<path d="M534.90 410.58V429.73" stroke="#4a86e8" stroke-width="1.0" opacity="0.72"/>
<path d="M534.90 427.94V452.72" stroke="#45a86a" stroke-width="1.0" opacity="0.72"/>
<path d="M534.90 418.19V444.67" stroke="#f06a6a" stroke-width="1.0" opacity="0.74"/>
<path d="M534.90 409.23V429.36" stroke="#8a8a8a" stroke-width="1.0" opacity="0.80"/>
<path d="M539.85 424.97V453.14" stroke="#b48be8" stroke-width="1.0" opacity="0.76"/>
<path d="M539.85 414.03V437.99" stroke="#4a86e8" stroke-width="1.0" opacity="0.68"/>
<path d="M539.85 433.63V461.05" stroke="#f06a6a" stroke-width="1.0" opacity="0.79"/>
<path d="M539.85 404.75V429.23" stroke="#8a8a8a" stroke-width="1.0" opacity="0.81"/>
<path d="M539.85 428.43V448.87" stroke="#45a86a" stroke-width="1.0" opacity="0.66"/>
<path d="M544.80 421.96V452.79" stroke="#b48be8" stroke-width="1.0" opacity="0.75"/>
<path d="M544.80 428.48V445.09" stroke="#45a86a" stroke-width="1.0" opacity="0.71"/>
<path d="M544.80 423.63V438.90" stroke="#4a86e8" stroke-width="1.0" opacity="0.87"/>
<path d="M544.80 404.18V424.37" stroke="#8a8a8a" stroke-width="1.0" opacity="0.67"/>
<path d="M549.75 415.46V439.90" stroke="#8a8a8a" stroke-width="1.0" opacity="0.53"/>
<path d="M549.75 425.30V445.57" stroke="#b48be8" stroke-width="1.0" opacity="0.67"/>
<path d="M549.75 422.48V441.07" stroke="#4a86e8" stroke-width="1.0" opacity="0.76"/>
<path d="M549.75 432.89V449.04" stroke="#f06a6a" stroke-width="1.0" opacity="0.73"/>
<path d="M549.75 426.35V456.69" stroke="#45a86a" stroke-width="1.0" opacity="0.51"/>
<path d="M554.70 438.84V461.61" stroke="#45a86a" stroke-width="1.0" opacity="0.81"/>
<path d="M554.70 431.58V453.06" stroke="#b48be8" stroke-width="1.0" opacity="0.73"/>
<path d="M554.70 435.01V458.29" stroke="#f06a6a" stroke-width="1.0" opacity="0.47"/>
<path d="M554.70 422.20V449.78" stroke="#4a86e8" stroke-width="1.0" opacity="0.66"/>
<path d="M554.70 422.81V437.53" stroke="#8a8a8a" stroke-width="1.0" opacity="0.86"/>
<path d="M559.65 421.72V442.68" stroke="#f06a6a" stroke-width="1.0" opacity="0.57"/>
<path d="M559.65 433.07V457.64" stroke="#b48be8" stroke-width="1.0" opacity="0.78"/>
<path d="M559.65 434.80V454.18" stroke="#45a86a" stroke-width="1.0" opacity="0.65"/>
<path d="M559.65 407.24V435.73" stroke="#8a8a8a" stroke-width="1.0" opacity="0.74"/>
<path d="M564.60 431.96V455.30" stroke="#f06a6a" stroke-width="1.0" opacity="0.64"/>
<path d="M564.60 414.68V448.17" stroke="#b48be8" stroke-width="1.0" opacity="0.86"/>
<path d="M564.60 413.45V433.66" stroke="#4a86e8" stroke-width="1.0" opacity="0.85"/>
<path d="M564.60 410.87V430.82" stroke="#8a8a8a" stroke-width="1.0" opacity="0.84"/>
<path d="M564.60 427.96V451.82" stroke="#45a86a" stroke-width="1.0" opacity="0.48"/>
<path d="M569.55 426.22V448.53" stroke="#b48be8" stroke-width="1.0" opacity="0.58"/>
<path d="M569.55 426.02V444.30" stroke="#f06a6a" stroke-width="1.0" opacity="0.65"/>
<path d="M569.55 419.63V439.20" stroke="#8a8a8a" stroke-width="1.0" opacity="0.81"/>
<path d="M569.55 438.22V454.63" stroke="#45a86a" stroke-width="1.0" opacity="0.54"/>
<path d="M574.50 438.53V456.92" stroke="#f06a6a" stroke-width="1.0" opacity="0.65"/>
<path d="M574.50 429.29V449.41" stroke="#45a86a" stroke-width="1.0" opacity="0.45"/>
<path d="M574.50 428.91V450.84" stroke="#b48be8" stroke-width="1.0" opacity="0.59"/>
<path d="M574.50 421.68V441.12" stroke="#8a8a8a" stroke-width="1.0" opacity="0.48"/>
<path d="M579.45 423.48V445.89" stroke="#b48be8" stroke-width="1.0" opacity="0.87"/>
<path d="M579.45 443.92V471.42" stroke="#45a86a" stroke-width="1.0" opacity="0.74"/>
<path d="M584.40 449.40V469.59" stroke="#f06a6a" stroke-width="1.0" opacity="0.53"/>
<path d="M584.40 407.32V429.45" stroke="#4a86e8" stroke-width="1.0" opacity="0.86"/>
<path d="M584.40 411.15V444.54" stroke="#8a8a8a" stroke-width="1.0" opacity="0.80"/>
<path d="M584.40 426.13V441.95" stroke="#b48be8" stroke-width="1.0" opacity="0.66"/>
<path d="M584.40 423.17V450.73" stroke="#45a86a" stroke-width="1.0" opacity="0.84"/>
<path d="M589.35 428.25V450.34" stroke="#f06a6a" stroke-width="1.0" opacity="0.82"/>
<path d="M589.35 420.21V441.02" stroke="#8a8a8a" stroke-width="1.0" opacity="0.73"/>
<path d="M589.35 397.55V424.70" stroke="#4a86e8" stroke-width="1.0" opacity="0.52"/>
<path d="M589.35 438.95V461.13" stroke="#45a86a" stroke-width="1.0" opacity="0.77"/>
<path d="M589.35 406.37V434.25" stroke="#b48be8" stroke-width="1.0" opacity="0.75"/>
<path d="M594.30 434.11V461.10" stroke="#f06a6a" stroke-width="1.0" opacity="0.54"/>
<path d="M594.30 416.42V438.58" stroke="#b48be8" stroke-width="1.0" opacity="0.76"/>
<path d="M594.30 390.29V415.12" stroke="#4a86e8" stroke-width="1.0" opacity="0.81"/>
<path d="M594.30 442.30V462.80" stroke="#45a86a" stroke-width="1.0" opacity="0.65"/>
<path d="M594.30 405.48V436.08" stroke="#8a8a8a" stroke-width="1.0" opacity="0.60"/>
<path d="M599.25 438.95V466.74" stroke="#f06a6a" stroke-width="1.0" opacity="0.71"/>
<path d="M599.25 425.77V450.51" stroke="#45a86a" stroke-width="1.0" opacity="0.45"/>
<path d="M599.25 418.78V444.84" stroke="#b48be8" stroke-width="1.0" opacity="0.56"/>
<path d="M599.25 401.71V426.72" stroke="#8a8a8a" stroke-width="1.0" opacity="0.52"/>
<path d="M599.25 378.67V396.75" stroke="#4a86e8" stroke-width="1.0" opacity="0.58"/>
<path d="M604.20 436.04V469.30" stroke="#f06a6a" stroke-width="1.0" opacity="0.87"/>
<path d="M604.20 410.89V430.67" stroke="#8a8a8a" stroke-width="1.0" opacity="0.87"/>
<path d="M604.20 364.10V388.95" stroke="#4a86e8" stroke-width="1.0" opacity="0.72"/>
<path d="M604.20 437.74V457.73" stroke="#45a86a" stroke-width="1.0" opacity="0.75"/>
<path d="M604.20 409.88V429.40" stroke="#b48be8" stroke-width="1.0" opacity="0.54"/>
<path d="M609.15 403.64V434.37" stroke="#8a8a8a" stroke-width="1.0" opacity="0.79"/>
<path d="M609.15 429.86V456.26" stroke="#f06a6a" stroke-width="1.0" opacity="0.87"/>
<path d="M609.15 370.44V402.49" stroke="#4a86e8" stroke-width="1.0" opacity="0.45"/>
<path d="M609.15 436.59V459.70" stroke="#45a86a" stroke-width="1.0" opacity="0.51"/>
<path d="M614.10 412.37V428.21" stroke="#8a8a8a" stroke-width="1.0" opacity="0.63"/>
<path d="M614.10 383.49V406.97" stroke="#4a86e8" stroke-width="1.0" opacity="0.68"/>
<path d="M614.10 428.00V456.34" stroke="#45a86a" stroke-width="1.0" opacity="0.89"/>
<path d="M614.10 425.66V442.10" stroke="#f06a6a" stroke-width="1.0" opacity="0.56"/>
<path d="M614.10 403.54V427.99" stroke="#b48be8" stroke-width="1.0" opacity="0.54"/>
<path d="M619.05 389.54V415.03" stroke="#8a8a8a" stroke-width="1.0" opacity="0.76"/>
<path d="M619.05 429.78V448.32" stroke="#f06a6a" stroke-width="1.0" opacity="0.52"/>
<path d="M619.05 409.26V427.84" stroke="#b48be8" stroke-width="1.0" opacity="0.49"/>
<path d="M624.00 420.61V449.37" stroke="#f06a6a" stroke-width="1.0" opacity="0.77"/>
<path d="M624.00 403.10V425.01" stroke="#b48be8" stroke-width="1.0" opacity="0.76"/>
<path d="M624.00 426.43V458.67" stroke="#45a86a" stroke-width="1.0" opacity="0.70"/>
<path d="M624.00 399.08V417.45" stroke="#4a86e8" stroke-width="1.0" opacity="0.57"/>
<path d="M624.00 397.09V417.01" stroke="#8a8a8a" stroke-width="1.0" opacity="0.51"/>
<path d="M628.95 397.20V416.09" stroke="#b48be8" stroke-width="1.0" opacity="0.48"/>
<path d="M628.95 402.14V420.06" stroke="#4a86e8" stroke-width="1.0" opacity="0.61"/>
<path d="M628.95 426.00V445.86" stroke="#f06a6a" stroke-width="1.0" opacity="0.66"/>
<path d="M633.90 382.09V410.72" stroke="#8a8a8a" stroke-width="1.0" opacity="0.75"/>
<path d="M633.90 423.70V451.70" stroke="#45a86a" stroke-width="1.0" opacity="0.80"/>
<path d="M633.90 405.36V422.26" stroke="#4a86e8" stroke-width="1.0" opacity="0.85"/>
<path d="M633.90 408.11V426.67" stroke="#b48be8" stroke-width="1.0" opacity="0.57"/>
<path d="M633.90 424.78V454.91" stroke="#f06a6a" stroke-width="1.0" opacity="0.89"/>
<path d="M638.85 436.08V468.00" stroke="#f06a6a" stroke-width="1.0" opacity="0.47"/>
<path d="M638.85 424.85V442.85" stroke="#45a86a" stroke-width="1.0" opacity="0.54"/>
<path d="M638.85 423.59V440.28" stroke="#4a86e8" stroke-width="1.0" opacity="0.78"/>
<path d="M638.85 392.13V415.87" stroke="#b48be8" stroke-width="1.0" opacity="0.52"/>
<path d="M643.80 400.30V421.91" stroke="#b48be8" stroke-width="1.0" opacity="0.86"/>
<path d="M643.80 439.57V468.42" stroke="#f06a6a" stroke-width="1.0" opacity="0.64"/>
<path d="M643.80 425.68V452.15" stroke="#45a86a" stroke-width="1.0" opacity="0.48"/>
<path d="M643.80 415.15V439.48" stroke="#4a86e8" stroke-width="1.0" opacity="0.58"/>
<path d="M648.75 413.03V437.44" stroke="#45a86a" stroke-width="1.0" opacity="0.65"/>
<path d="M648.75 421.14V451.34" stroke="#4a86e8" stroke-width="1.0" opacity="0.75"/>
<path d="M648.75 387.54V418.14" stroke="#8a8a8a" stroke-width="1.0" opacity="0.50"/>
<path d="M648.75 399.99V416.68" stroke="#b48be8" stroke-width="1.0" opacity="0.82"/>
<path d="M648.75 439.02V458.18" stroke="#f06a6a" stroke-width="1.0" opacity="0.71"/>
<path d="M653.70 431.99V449.58" stroke="#4a86e8" stroke-width="1.0" opacity="0.50"/>
<path d="M653.70 407.64V425.40" stroke="#8a8a8a" stroke-width="1.0" opacity="0.67"/>
<path d="M653.70 392.43V409.33" stroke="#b48be8" stroke-width="1.0" opacity="0.87"/>
<path d="M653.70 440.11V455.41" stroke="#f06a6a" stroke-width="1.0" opacity="0.60"/>
<path d="M653.70 424.09V451.91" stroke="#45a86a" stroke-width="1.0" opacity="0.71"/>
<path d="M658.65 430.92V455.20" stroke="#f06a6a" stroke-width="1.0" opacity="0.81"/>
<path d="M658.65 417.84V443.11" stroke="#45a86a" stroke-width="1.0" opacity="0.70"/>
<path d="M658.65 405.27V426.85" stroke="#b48be8" stroke-width="1.0" opacity="0.50"/>
<path d="M658.65 410.92V434.92" stroke="#4a86e8" stroke-width="1.0" opacity="0.70"/>
<path d="M658.65 398.21V426.93" stroke="#8a8a8a" stroke-width="1.0" opacity="0.71"/>
<path d="M663.60 435.83V453.19" stroke="#f06a6a" stroke-width="1.0" opacity="0.71"/>
<path d="M663.60 417.61V433.29" stroke="#45a86a" stroke-width="1.0" opacity="0.47"/>
<path d="M663.60 397.62V423.86" stroke="#b48be8" stroke-width="1.0" opacity="0.71"/>
<path d="M663.60 423.44V445.72" stroke="#4a86e8" stroke-width="1.0" opacity="0.73"/>
<path d="M663.60 405.81V424.12" stroke="#8a8a8a" stroke-width="1.0" opacity="0.51"/>
<path d="M668.55 445.34V466.50" stroke="#f06a6a" stroke-width="1.0" opacity="0.72"/>
<path d="M668.55 423.17V448.44" stroke="#45a86a" stroke-width="1.0" opacity="0.69"/>
<path d="M668.55 392.52V406.79" stroke="#b48be8" stroke-width="1.0" opacity="0.71"/>
<path d="M668.55 399.44V425.96" stroke="#8a8a8a" stroke-width="1.0" opacity="0.70"/>
<path d="M668.55 426.29V445.87" stroke="#4a86e8" stroke-width="1.0" opacity="0.51"/>
<path d="M55.90 752.72H57.10V751.83H58.30V752.01H59.50V752.36H60.70V753.15H61.90V751.78H63.10V752.20H64.30V751.27H65.50V742.36H66.70V725.50H67.90V715.66H69.10V710.39H70.30V705.00H71.50V700.23H72.70V692.83H73.90V685.51H75.10V681.53H76.30V682.73H77.50V681.67H78.70V681.60H79.90V680.71H81.10V681.30H82.30V680.42H83.50V679.10H84.70V676.49H85.90V670.35H87.10V665.34H88.30V664.67H89.50V665.95H90.70V665.07H91.90V665.32H93.10V664.75H94.30V665.20H95.50V665.48H96.70V664.63H97.90V664.81H99.10V663.94H100.30V664.57H101.50V663.75H102.70V663.94H103.90V662.77H105.10V663.36H106.30V663.46H107.50V662.95H108.70V661.41H109.90V662.35H111.10V662.96H112.30V661.69H113.50V661.73H114.70V661.42H115.90V661.83H117.10V660.87H118.30V660.80H119.50V661.42H120.70V659.57H121.90V660.01H123.10V659.85H124.30V660.39H125.50V659.19H126.70V658.23H127.90V656.62H129.10V656.40H130.30V655.79H131.50V654.34H132.70V654.28H133.90V654.94H135.10V654.65H136.30V653.53H137.50V653.17H138.70V652.61H139.90V652.67H141.10V651.91H142.30V652.25H143.50V651.90H144.70V651.42H145.90V651.06H147.10V651.13H148.30V650.68H149.50V650.02H150.70V650.66H151.90V650.52H153.10V649.51H154.30V648.81H155.50V648.81H156.70V648.39H157.90V647.90H159.10V646.91H160.30V647.98H161.50V647.89H162.70V647.16H163.90V646.62H165.10V646.55H166.30V647.00H167.50V645.95H168.70V645.70H169.90V645.59H171.10V646.02H172.30V645.73H173.50V645.61H174.70V646.22H175.90V645.55H177.10V645.07H178.30V645.11H179.50V646.44H180.70V646.00H181.90V646.58H183.10V645.72H184.30V646.79H185.50V646.59H186.70V645.39H187.90V644.98H189.10V643.77H190.30V644.16H191.50V643.83H192.70V642.76H193.90V642.50H195.10V642.82H196.30V641.37H197.50V640.27H198.70V638.19H199.90V638.06H201.10V635.78H202.30V636.52H203.50V634.66H204.70V633.84H205.90V633.12H207.10V633.05H208.30V632.68H209.50V632.86H210.70V632.22H211.90V630.94H213.10V631.31H214.30V631.95H215.50V631.41H216.70V631.01H217.90V630.37H219.10V631.11H220.30V630.75H221.50V631.38H222.70V630.76H223.90V631.74H225.10V631.97H226.30V631.99H227.50V631.85H228.70V630.80H229.90V631.89H231.10V631.19H232.30V632.44H233.50V631.69H234.70V629.77H235.90V630.24H237.10V629.44H238.30V629.15H239.50V629.81H240.70V628.37H241.90V628.05H243.10V628.24H244.30V628.04H245.50V627.75H246.70V627.35H247.90V626.10H249.10V625.93H250.30V624.85H251.50V623.92H252.70V623.50H253.90V622.29H255.10V622.17H256.30V621.72H257.50V620.92H258.70V620.69H259.90V621.41H261.10V619.69H262.30V621.18H263.50V621.06H264.70V620.70H265.90V618.96H267.10V619.29H268.30V618.80H269.50V619.28H270.70V617.76H271.90V617.82H273.10V617.99H274.30V617.36H275.50V616.92H276.70V615.92H277.90V615.65H279.10V615.64H280.30V615.68H281.50V614.83H282.70V615.81H283.90V615.91H285.10V614.64H286.30V615.88H287.50V615.45H288.70V615.54H289.90V616.03H291.10V616.00H292.30V614.25H293.50V613.87H294.70V613.28H295.90V612.26H297.10V612.15H298.30V611.67H299.50V611.92H300.70V612.19H301.90V611.34H303.10V610.23H304.30V610.49H305.50V610.73H306.70V610.07H307.90V610.49H309.10V609.21H310.30V609.14H311.50V608.52H312.70V607.70H313.90V608.36H315.10V605.71H316.30V606.92H317.50V605.61H318.70V605.59H319.90V603.98H321.10V603.11H322.30V603.71H323.50V601.46H324.70V600.58H325.90V600.23H327.10V599.19" stroke="#333333" stroke-width="1.0" fill="none"/>
<path d="M55.90 767.84H57.10V767.74H58.30V766.68H59.50V765.90H60.70V765.61H61.90V764.78H63.10V764.19H64.30V757.67H65.50V751.41H66.70V745.78H67.90V740.38H69.10V734.12H70.30V729.76H71.50V725.20H72.70V720.60H73.90V715.78H75.10V713.35H76.30V709.71H77.50V706.92H78.70V703.03H79.90V700.16H81.10V697.55H82.30V696.82H83.50V697.57H84.70V697.35H85.90V695.32H87.10V696.70H88.30V695.29H89.50V696.01H90.70V695.43H91.90V695.39H93.10V695.59H94.30V694.95H95.50V693.92H96.70V693.85H97.90V694.55H99.10V693.46H100.30V693.75H101.50V692.56H102.70V694.21H103.90V692.71H105.10V692.16H106.30V692.20H107.50V692.27H108.70V691.39H109.90V691.48H111.10V692.05H112.30V691.07H113.50V691.72H114.70V691.11H115.90V691.01H117.10V690.86H118.30V690.82H119.50V690.21H120.70V689.78H121.90V689.75H123.10V688.85H124.30V689.19H125.50V689.73H126.70V689.06H127.90V689.04H129.10V688.02H130.30V687.96H131.50V688.03H132.70V687.58H133.90V687.26H135.10V686.90H136.30V686.71H137.50V686.31H138.70V686.10H139.90V685.37H141.10V685.47H142.30V684.85H143.50V684.49H144.70V684.27H145.90V684.23H147.10V683.15H148.30V682.96H149.50V683.10H150.70V681.03H151.90V681.81H153.10V681.78H154.30V680.64H155.50V680.77H156.70V680.36H157.90V679.19H159.10V679.92H160.30V678.32H161.50V679.23H162.70V677.98H163.90V678.31H165.10V675.98H166.30V678.86H167.50V676.49H168.70V676.52H169.90V675.60H171.10V675.91H172.30V674.41H173.50V673.85H174.70V674.46H175.90V674.23H177.10V674.42H178.30V673.87H179.50V673.73H180.70V671.51H181.90V671.87H183.10V669.97H184.30V671.47H185.50V670.94H186.70V669.38H187.90V669.62H189.10V669.59H190.30V668.80H191.50V667.95H192.70V668.09H193.90V666.52H195.10V666.26H196.30V667.44H197.50V666.17H198.70V665.70H199.90V667.18H201.10V666.17H202.30V666.07H203.50V666.20H204.70V666.09H205.90V665.15H207.10V664.46H208.30V663.03H209.50V662.86H210.70V662.47H211.90V661.35H213.10V660.54H214.30V660.58H215.50V660.63H216.70V658.69H217.90V657.88H219.10V658.02H220.30V657.30H221.50V656.97H222.70V657.32H223.90V655.97H225.10V655.81H226.30V655.73H227.50V656.52H228.70V656.40H229.90V655.74H231.10V655.22H232.30V654.91H233.50V654.45H234.70V655.00H235.90V656.12H237.10V656.29H238.30V657.57H239.50V658.20H240.70V657.13H241.90V657.78H243.10V658.63H244.30V657.23H245.50V657.08H246.70V658.05H247.90V656.89H249.10V657.03H250.30V657.09H251.50V656.68H252.70V656.26H253.90V656.59H255.10V655.36H256.30V655.47H257.50V656.17H258.70V655.20H259.90V655.19H261.10V656.10H262.30V654.42H263.50V653.84H264.70V654.38H265.90V654.25H267.10V652.84H268.30V653.69H269.50V651.63H270.70V651.68H271.90V651.35H273.10V651.06H274.30V649.47H275.50V649.51H276.70V649.39H277.90V649.29H279.10V649.06H280.30V648.80H281.50V648.44H282.70V649.28H283.90V648.88H285.10V648.98H286.30V649.37H287.50V648.65H288.70V650.30H289.90V650.35H291.10V648.27H292.30V648.09H293.50V647.45H294.70V646.78H295.90V646.84H297.10V646.52H298.30V645.83H299.50V644.35H300.70V646.10H301.90V645.01H303.10V645.62H304.30V644.72H305.50V645.00H306.70V645.43H307.90V644.12H309.10V644.10H310.30V644.32H311.50V644.43H312.70V644.37H313.90V642.93H315.10V642.93H316.30V642.39H317.50V642.62H318.70V641.71H319.90V641.23H321.10V640.88H322.30V640.81H323.50V640.11H324.70V639.22H325.90V639.31H327.10V638.00" stroke="#ee3b3b" stroke-width="1.0" fill="none"/>
<path d="M55.90 759.58H57.10V759.16H58.30V758.62H59.50V757.98H60.70V757.87H61.90V756.82H63.10V757.28H64.30V747.86H65.50V739.44H66.70V730.37H67.90V723.39H69.10V719.29H70.30V715.18H71.50V712.06H72.70V709.63H73.90V708.28H75.10V705.74H76.30V703.97H77.50V702.56H78.70V700.94H79.90V699.40H81.10V699.32H82.30V699.70H83.50V698.71H84.70V698.89H85.90V699.05H87.10V700.09H88.30V700.02H89.50V700.43H90.70V700.06H91.90V700.74H93.10V699.98H94.30V700.09H95.50V700.58H96.70V700.31H97.90V700.45H99.10V701.03H100.30V700.26H101.50V699.70H102.70V700.38H103.90V701.19H105.10V701.53H106.30V701.12H107.50V700.91H108.70V701.03H109.90V700.72H111.10V701.33H112.30V700.10H113.50V701.52H114.70V700.49H115.90V699.45H117.10V700.68H118.30V699.57H119.50V698.76H120.70V699.03H121.90V697.52H123.10V696.57H124.30V696.24H125.50V695.76H126.70V693.40H127.90V692.48H129.10V690.74H130.30V689.49H131.50V688.43H132.70V687.78H133.90V688.18H135.10V687.98H136.30V687.70H137.50V687.20H138.70V687.49H139.90V686.70H141.10V686.71H142.30V685.89H143.50V686.36H144.70V685.72H145.90V685.85H147.10V686.33H148.30V685.92H149.50V685.81H150.70V686.17H151.90V684.65H153.10V685.95H154.30V686.19H155.50V685.57H156.70V686.12H157.90V685.17H159.10V685.80H160.30V685.10H161.50V685.74H162.70V685.25H163.90V685.19H165.10V685.96H166.30V684.40H167.50V684.16H168.70V684.44H169.90V684.77H171.10V683.11H172.30V683.61H173.50V683.93H174.70V683.29H175.90V681.79H177.10V681.10H178.30V681.87H179.50V681.31H180.70V680.71H181.90V680.81H183.10V681.26H184.30V680.89H185.50V680.30H186.70V679.65H187.90V678.17H189.10V677.17H190.30V677.50H191.50V677.18H192.70V675.55H193.90V675.02H195.10V674.07H196.30V674.63H197.50V674.84H198.70V675.10H199.90V674.61H201.10V674.37H202.30V673.51H203.50V673.51H204.70V673.34H205.90V672.66H207.10V673.80H208.30V673.70H209.50V673.65H210.70V673.58H211.90V671.75H213.10V672.46H214.30V671.96H215.50V671.22H216.70V672.21H217.90V672.00H219.10V670.82H220.30V670.71H221.50V670.95H222.70V670.67H223.90V669.94H225.10V669.54H226.30V669.23H227.50V669.10H228.70V668.44H229.90V668.29H231.10V667.24H232.30V668.25H233.50V667.70H234.70V667.21H235.90V666.68H237.10V666.82H238.30V665.97H239.50V665.83H240.70V665.01H241.90V664.91H243.10V664.41H244.30V664.60H245.50V663.83H246.70V664.07H247.90V664.25H249.10V662.94H250.30V662.78H251.50V662.65H252.70V662.74H253.90V662.96H255.10V663.04H256.30V663.06H257.50V662.28H258.70V663.31H259.90V662.20H261.10V662.46H262.30V662.72H263.50V662.76H264.70V662.05H265.90V662.03H267.10V661.77H268.30V661.23H269.50V661.14H270.70V660.98H271.90V660.66H273.10V661.02H274.30V660.05H275.50V659.30H276.70V660.30H277.90V659.45H279.10V658.66H280.30V659.84H281.50V658.56H282.70V658.62H283.90V658.71H285.10V657.65H286.30V657.54H287.50V656.92H288.70V657.18H289.90V656.71H291.10V656.50H292.30V656.12H293.50V655.60H294.70V655.65H295.90V655.82H297.10V656.34H298.30V654.49H299.50V654.36H300.70V654.44H301.90V653.55H303.10V654.27H304.30V652.65H305.50V653.23H306.70V653.23H307.90V653.10H309.10V653.22H310.30V652.94H311.50V653.56H312.70V653.35H313.90V653.25H315.10V652.97H316.30V653.10H317.50V654.05H318.70V653.90H319.90V653.65H321.10V653.33H322.30V653.48H323.50V653.63H324.70V653.79H325.90V654.22H327.10V653.43" stroke="#2a6fdd" stroke-width="1.0" fill="none"/>
<path d="M55.90 778.07H57.10V776.75H58.30V776.89H59.50V777.12H60.70V776.92H61.90V773.98H63.10V770.29H64.30V765.32H65.50V761.22H66.70V753.59H67.90V745.12H69.10V736.38H70.30V728.06H71.50V721.59H72.70V716.82H73.90V711.15H75.10V707.73H76.30V703.34H77.50V699.17H78.70V694.27H79.90V689.09H81.10V687.80H82.30V687.22H83.50V686.38H84.70V686.68H85.90V686.34H87.10V686.12H88.30V685.45H89.50V685.63H90.70V684.50H91.90V684.79H93.10V684.84H94.30V683.52H95.50V682.98H96.70V683.42H97.90V683.98H99.10V683.35H100.30V685.44H101.50V685.16H102.70V684.76H103.90V685.88H105.10V685.60H106.30V685.72H107.50V686.30H108.70V686.42H109.90V686.78H111.10V687.01H112.30V685.92H113.50V685.62H114.70V684.23H115.90V684.26H117.10V684.94H118.30V683.71H119.50V683.49H120.70V682.86H121.90V681.61H123.10V681.86H124.30V681.04H125.50V680.12H126.70V679.60H127.90V680.34H129.10V678.52H130.30V678.64H131.50V678.29H132.70V677.75H133.90V676.34H135.10V676.19H136.30V675.75H137.50V675.01H138.70V673.87H139.90V673.95H141.10V673.64H142.30V673.98H143.50V674.99H144.70V674.65H145.90V676.21H147.10V675.46H148.30V675.75H149.50V677.06H150.70V675.68H151.90V674.71H153.10V675.31H154.30V674.43H155.50V673.30H156.70V673.16H157.90V674.21H159.10V673.53H160.30V674.04H161.50V674.03H162.70V673.87H163.90V675.26H165.10V677.13H166.30V674.85H167.50V675.32H168.70V675.44H169.90V674.41H171.10V675.21H172.30V672.90H173.50V673.15H174.70V673.77H175.90V672.99H177.10V673.09H178.30V672.54H179.50V671.94H180.70V671.47H181.90V670.95H183.10V670.18H184.30V671.21H185.50V670.43H186.70V668.59H187.90V668.84H189.10V668.60H190.30V667.06H191.50V666.97H192.70V666.70H193.90V666.17H195.10V665.51H196.30V665.72H197.50V664.98H198.70V664.57H199.90V665.51H201.10V665.28H202.30V665.17H203.50V664.77H204.70V664.92H205.90V665.42H207.10V664.48H208.30V665.59H209.50V664.77H210.70V664.81H211.90V664.89H213.10V664.41H214.30V664.71H215.50V664.20H216.70V665.05H217.90V664.59H219.10V665.15H220.30V663.09H221.50V663.95H222.70V664.52H223.90V664.15H225.10V663.61H226.30V664.47H227.50V664.13H228.70V663.98H229.90V662.43H231.10V663.72H232.30V663.25H233.50V663.13H234.70V662.16H235.90V663.06H237.10V662.55H238.30V662.67H239.50V660.89H240.70V661.27H241.90V661.26H243.10V661.33H244.30V660.88H245.50V659.72H246.70V660.84H247.90V661.95H249.10V660.59H250.30V659.96H251.50V660.81H252.70V659.45H253.90V660.01H255.10V658.66H256.30V658.60H257.50V659.18H258.70V658.66H259.90V658.73H261.10V658.60H262.30V658.36H263.50V658.24H264.70V657.72H265.90V657.86H267.10V657.70H268.30V657.71H269.50V657.68H270.70V656.75H271.90V657.42H273.10V656.82H274.30V657.12H275.50V656.94H276.70V656.66H277.90V655.78H279.10V656.31H280.30V655.99H281.50V656.26H282.70V655.34H283.90V655.25H285.10V654.23H286.30V655.45H287.50V655.87H288.70V654.29H289.90V654.74H291.10V654.45H292.30V654.66H293.50V654.12H294.70V654.43H295.90V653.61H297.10V653.27H298.30V653.65H299.50V653.22H300.70V653.53H301.90V653.12H303.10V652.66H304.30V653.59H305.50V652.83H306.70V653.51H307.90V654.50H309.10V653.84H310.30V653.35H311.50V653.54H312.70V654.15H313.90V655.09H315.10V653.81H316.30V655.09H317.50V655.35H318.70V653.61H319.90V654.19H321.10V654.87H322.30V655.60H323.50V654.99H324.70V653.96H325.90V654.23H327.10V656.14" stroke="#2f9e5e" stroke-width="1.0" fill="none"/>
<path d="M55.90 782.87H57.10V782.32H58.30V782.94H59.50V781.24H60.70V781.62H61.90V781.15H63.10V780.05H64.30V780.20H65.50V779.29H66.70V775.88H67.90V770.34H69.10V764.99H70.30V759.67H71.50V754.10H72.70V752.40H73.90V750.14H75.10V747.72H76.30V745.23H77.50V744.31H78.70V743.24H79.90V743.21H81.10V743.26H82.30V742.10H83.50V741.58H84.70V740.25H85.90V741.20H87.10V741.21H88.30V740.85H89.50V740.97H90.70V740.30H91.90V740.07H93.10V740.49H94.30V739.82H95.50V741.03H96.70V740.24H97.90V740.68H99.10V741.01H100.30V741.01H101.50V741.71H102.70V741.71H103.90V741.88H105.10V741.08H106.30V741.33H107.50V741.43H108.70V740.68H109.90V741.24H111.10V741.26H112.30V740.92H113.50V741.58H114.70V741.26H115.90V740.00H117.10V740.86H118.30V738.77H119.50V739.35H120.70V739.95H121.90V739.64H123.10V738.45H124.30V736.59H125.50V735.47H126.70V735.55H127.90V733.74H129.10V732.59H130.30V732.24H131.50V730.64H132.70V730.56H133.90V730.03H135.10V729.09H136.30V729.73H137.50V729.04H138.70V728.64H139.90V727.82H141.10V727.23H142.30V727.01H143.50V726.54H144.70V726.18H145.90V725.72H147.10V725.00H148.30V724.82H149.50V723.20H150.70V719.96H151.90V719.71H153.10V719.57H154.30V719.68H155.50V719.79H156.70V719.33H157.90V719.71H159.10V720.20H160.30V719.86H161.50V721.00H162.70V720.14H163.90V720.30H165.10V720.80H166.30V720.38H167.50V721.26H168.70V720.08H169.90V720.32H171.10V719.20H172.30V719.87H173.50V719.52H174.70V719.41H175.90V718.99H177.10V719.78H178.30V719.96H179.50V718.79H180.70V719.37H181.90V718.50H183.10V717.38H184.30V718.42H185.50V717.14H186.70V716.38H187.90V715.90H189.10V716.14H190.30V715.13H191.50V713.74H192.70V712.99H193.90V713.53H195.10V712.41H196.30V711.82H197.50V712.18H198.70V711.96H199.90V711.13H201.10V711.69H202.30V710.83H203.50V712.00H204.70V710.84H205.90V711.96H207.10V711.56H208.30V711.51H209.50V711.37H210.70V710.57H211.90V711.37H213.10V711.06H214.30V709.58H215.50V709.14H216.70V710.11H217.90V709.87H219.10V709.80H220.30V709.14H221.50V709.81H222.70V709.98H223.90V709.42H225.10V709.35H226.30V707.94H227.50V709.16H228.70V707.74H229.90V707.89H231.10V708.01H232.30V707.55H233.50V709.13H234.70V706.88H235.90V707.53H237.10V706.12H238.30V706.24H239.50V707.18H240.70V705.88H241.90V706.32H243.10V706.35H244.30V705.82H245.50V706.60H246.70V704.86H247.90V706.10H249.10V706.29H250.30V706.44H251.50V706.77H252.70V704.91H253.90V705.86H255.10V706.01H256.30V705.70H257.50V706.65H258.70V706.18H259.90V705.41H261.10V706.02H262.30V706.43H263.50V707.23H264.70V705.85H265.90V705.34H267.10V704.99H268.30V706.08H269.50V705.73H270.70V705.12H271.90V704.86H273.10V704.64H274.30V704.54H275.50V705.02H276.70V703.23H277.90V704.34H279.10V703.69H280.30V703.76H281.50V703.22H282.70V703.58H283.90V702.95H285.10V703.11H286.30V702.09H287.50V702.37H288.70V702.63H289.90V702.63H291.10V703.08H292.30V702.33H293.50V702.46H294.70V701.76H295.90V702.04H297.10V702.52H298.30V702.64H299.50V701.82H300.70V702.42H301.90V702.38H303.10V701.59H304.30V701.97H305.50V701.79H306.70V701.62H307.90V702.40H309.10V702.08H310.30V701.22H311.50V701.29H312.70V701.29H313.90V701.39H315.10V701.95H316.30V701.14H317.50V699.84H318.70V700.75H319.90V701.06H321.10V700.64H322.30V700.40H323.50V700.27H324.70V699.00H325.90V700.55H327.10V699.47" stroke="#a874e6" stroke-width="1.0" fill="none"/>
<path d="M408.30 716.35 409.30 715.61 410.30 715.00 411.30 714.18 412.30 713.51 413.30 712.87 414.30 712.60 415.30 712.16 416.30 711.57 417.30 710.73 418.30 709.99 419.30 709.24 420.30 708.61 421.30 707.64 422.30 707.14 423.30 706.41 424.30 706.14 425.30 705.26 426.30 704.65 427.30 703.74 428.30 703.17 429.30 702.76 430.30 702.34 431.30 701.86 432.30 701.65 433.30 701.32 434.30 701.05 435.30 700.12 436.30 699.59 437.30 699.20 438.30 698.88 439.30 698.56 440.30 697.99 441.30 697.35 442.30 696.55 443.30 695.83 444.30 695.51 445.30 695.11 446.30 695.01 447.30 694.47 448.30 694.34 449.30 693.64 450.30 693.37 451.30 692.62 452.30 692.23 453.30 691.61 454.30 691.24 455.30 691.08 456.30 690.91 457.30 690.80 458.30 690.51 459.30 690.30 460.30 690.00 461.30 689.64 462.30 689.39 463.30 689.09 464.30 688.63 465.30 688.26 466.30 687.70 467.30 687.38 468.30 687.05 469.30 686.88 470.30 686.50 471.30 685.64 472.30 685.06 473.30 684.47 474.30 684.42 475.30 684.15 476.30 683.74 477.30 683.37 478.30 683.14 479.30 682.98 480.30 682.55 481.30 681.93 482.30 681.14 483.30 680.81 484.30 680.49 485.30 680.40 486.30 679.96 487.30 679.60 488.30 679.40 489.30 679.06 490.30 678.69 491.30 678.44 492.30 678.01 493.30 677.88 494.30 677.40 495.30 677.29 496.30 676.99 497.30 676.65 498.30 676.19 499.30 675.79 500.30 675.51 501.30 675.23 502.30 674.88 503.30 674.76 504.30 674.33 505.30 674.24 506.30 673.95 507.30 673.85 508.30 673.20 509.30 672.50 510.30 672.24 511.30 672.21 512.30 672.03 513.30 671.52 514.30 671.07 515.30 670.81 516.30 670.77 517.30 670.41 518.30 670.03 519.30 669.78 520.30 669.68 521.30 669.42 522.30 668.89 523.30 668.39 524.30 668.07 525.30 667.98 526.30 667.99 527.30 667.94 528.30 667.59 529.30 666.99 530.30 666.63 531.30 666.22 532.30 666.21 533.30 665.90 534.30 665.65 535.30 665.32 536.30 665.21 537.30 665.14 538.30 664.69 539.30 664.10 540.30 663.58 541.30 663.35 542.30 663.08 543.30 662.59 544.30 662.12 545.30 661.53 546.30 661.01 547.30 660.69 548.30 660.17 549.30 659.76 550.30 658.98 551.30 658.44 552.30 658.07 553.30 657.59 554.30 657.47 555.30 656.79 556.30 656.40 557.30 655.67 558.30 655.57 559.30 655.20 560.30 654.65 561.30 654.10 562.30 653.46 563.30 653.06 564.30 652.44 565.30 651.93 566.30 651.67 567.30 651.16 568.30 650.95 569.30 650.26 570.30 649.86 571.30 649.35 572.30 648.99 573.30 648.56 574.30 648.16 575.30 647.82 576.30 647.49 577.30 647.39 578.30 647.25 579.30 646.82 580.30 646.29 581.30 645.85 582.30 645.96 583.30 645.88 584.30 645.44 585.30 644.82 586.30 644.41 587.30 644.22 588.30 643.90 589.30 643.90 590.30 643.75 591.30 643.60 592.30 643.06 593.30 642.62 594.30 642.47 595.30 642.33 596.30 642.07 597.30 641.32 598.30 640.79 599.30 640.24 600.30 640.00 601.30 639.48 602.30 638.96 603.30 638.40 604.30 637.78 605.30 637.31 606.30 636.98 607.30 636.70 608.30 636.31 609.30 635.93 610.30 635.62 611.30 635.05 612.30 634.31 613.30 633.57 614.30 633.17 615.30 632.73 616.30 632.30 617.30 631.73 618.30 631.60 619.30 631.15 620.30 630.73 621.30 630.06 622.30 629.85 623.30 629.46 624.30 628.96 625.30 628.12 626.30 627.67 627.30 627.37 628.30 626.95 629.30 626.55 630.30 626.09 631.30 625.89 632.30 625.46 633.30 625.04 634.30 624.65 635.30 624.40 636.30 624.04 637.30 623.57 638.30 622.91 639.30 622.63 640.30 622.24 641.30 621.95 642.30 621.26 643.30 620.46 644.30 619.98 645.30 619.50 646.30 619.43 647.30 619.05 648.30 618.58 649.30 618.14 650.30 617.50 651.30 617.06 652.30 616.58 653.30 616.27 654.30 616.16 655.30 615.70 656.30 615.04 657.30 614.49 658.30 614.05 659.30 613.80 660.30 613.32 661.30 612.97 662.30 612.45 663.30 611.71 664.30 610.99 665.30 610.46 666.30 610.17 667.30 609.75 668.30 609.35 669.30 608.72 670.30 608.38 671.30 608.03 672.30 607.77" stroke="#333333" stroke-width="0.9" fill="none"/>
<path d="M408.30 729.81 409.30 729.28 410.30 728.63 411.30 728.04 412.30 727.18 413.30 726.68 414.30 726.14 415.30 725.65 416.30 724.82 417.30 724.34 418.30 724.00 419.30 723.51 420.30 722.78 421.30 722.04 422.30 721.33 423.30 720.65 424.30 719.98 425.30 719.58 426.30 718.87 427.30 718.20 428.30 717.53 429.30 717.14 430.30 716.78 431.30 716.22 432.30 715.89 433.30 715.60 434.30 715.26 435.30 714.89 436.30 714.52 437.30 714.17 438.30 713.55 439.30 713.33 440.30 713.02 441.30 712.82 442.30 712.20 443.30 711.71 444.30 711.33 445.30 711.06 446.30 710.67 447.30 710.21 448.30 709.66 449.30 709.61 450.30 709.64 451.30 709.62 452.30 709.33 453.30 708.97 454.30 708.68 455.30 708.50 456.30 708.28 457.30 707.85 458.30 707.48 459.30 707.03 460.30 706.86 461.30 706.58 462.30 706.61 463.30 706.42 464.30 706.02 465.30 706.05 466.30 706.05 467.30 706.25 468.30 706.02 469.30 705.95 470.30 705.48 471.30 704.96 472.30 704.34 473.30 703.90 474.30 703.38 475.30 702.96 476.30 702.44 477.30 702.17 478.30 701.69 479.30 701.25 480.30 700.85 481.30 700.35 482.30 700.15 483.30 699.67 484.30 699.63 485.30 699.00 486.30 698.65 487.30 697.98 488.30 697.77 489.30 697.47 490.30 697.30 491.30 696.85 492.30 696.39 493.30 695.84 494.30 695.38 495.30 695.00 496.30 694.62 497.30 694.31 498.30 693.93 499.30 693.51 500.30 693.19 501.30 692.56 502.30 692.21 503.30 691.71 504.30 691.46 505.30 690.92 506.30 690.58 507.30 690.16 508.30 689.95 509.30 689.48 510.30 689.12 511.30 688.73 512.30 688.23 513.30 687.61 514.30 687.40 515.30 687.18 516.30 686.92 517.30 686.51 518.30 686.24 519.30 685.86 520.30 685.41 521.30 685.22 522.30 684.85 523.30 684.45 524.30 683.99 525.30 684.09 526.30 683.82 527.30 683.43 528.30 682.85 529.30 682.34 530.30 682.13 531.30 682.16 532.30 682.20 533.30 681.92 534.30 681.44 535.30 681.31 536.30 681.42 537.30 681.44 538.30 681.24 539.30 680.72 540.30 680.35 541.30 679.84 542.30 679.06 543.30 678.51 544.30 678.09 545.30 677.73 546.30 677.58 547.30 677.13 548.30 676.77 549.30 676.05 550.30 675.70 551.30 675.35 552.30 674.99 553.30 674.34 554.30 673.67 555.30 672.99 556.30 672.54 557.30 672.23 558.30 671.86 559.30 671.40 560.30 670.87 561.30 670.18 562.30 669.66 563.30 669.02 564.30 668.67 565.30 668.06 566.30 667.69 567.30 667.25 568.30 667.05 569.30 666.70 570.30 666.25 571.30 665.80 572.30 665.19 573.30 664.66 574.30 663.82 575.30 663.30 576.30 662.91 577.30 662.81 578.30 662.16 579.30 661.84 580.30 661.56 581.30 661.43 582.30 661.06 583.30 660.38 584.30 659.77 585.30 659.19 586.30 658.75 587.30 658.21 588.30 657.71 589.30 657.08 590.30 656.91 591.30 656.30 592.30 656.10 593.30 655.62 594.30 655.24 595.30 654.76 596.30 654.32 597.30 654.00 598.30 653.54 599.30 653.03 600.30 652.62 601.30 652.36 602.30 651.97 603.30 651.49 604.30 650.80 605.30 650.37 606.30 650.15 607.30 649.95 608.30 649.51 609.30 648.90 610.30 648.50 611.30 648.12 612.30 647.95 613.30 647.51 614.30 647.30 615.30 646.99 616.30 646.75 617.30 646.23 618.30 645.43 619.30 645.04 620.30 644.56 621.30 644.43 622.30 644.05 623.30 643.95 624.30 643.85 625.30 643.32 626.30 642.79 627.30 642.19 628.30 642.10 629.30 641.77 630.30 641.34 631.30 640.68 632.30 640.32 633.30 639.87 634.30 639.65 635.30 639.28 636.30 638.71 637.30 638.00 638.30 637.52 639.30 637.20 640.30 637.11 641.30 636.75 642.30 636.43 643.30 635.83 644.30 635.34 645.30 635.14 646.30 634.72 647.30 634.24 648.30 633.63 649.30 633.13 650.30 632.83 651.30 632.30 652.30 631.88 653.30 631.43 654.30 631.37 655.30 631.06 656.30 630.74 657.30 630.40 658.30 630.38 659.30 630.32 660.30 629.75 661.30 629.32 662.30 628.92 663.30 628.71 664.30 628.24 665.30 627.66 666.30 627.37 667.30 626.95 668.30 626.63 669.30 626.25 670.30 625.98 671.30 625.57 672.30 625.19" stroke="#ee3b3b" stroke-width="0.9" fill="none"/>
<path d="M408.30 731.83 409.30 731.03 410.30 730.44 411.30 729.83 412.30 729.29 413.30 728.61 414.30 727.91 415.30 727.51 416.30 726.66 417.30 726.12 418.30 725.48 419.30 725.00 420.30 724.25 421.30 723.39 422.30 722.79 423.30 722.00 424.30 721.13 425.30 720.52 426.30 720.06 427.30 719.49 428.30 718.84 429.30 718.46 430.30 718.28 431.30 717.75 432.30 717.21 433.30 716.39 434.30 715.99 435.30 715.49 436.30 715.50 437.30 715.39 438.30 714.96 439.30 714.51 440.30 713.82 441.30 713.54 442.30 713.10 443.30 712.70 444.30 712.34 445.30 711.83 446.30 711.28 447.30 710.85 448.30 710.63 449.30 710.38 450.30 710.16 451.30 709.89 452.30 709.68 453.30 709.37 454.30 709.03 455.30 708.78 456.30 708.72 457.30 708.63 458.30 708.49 459.30 707.99 460.30 707.61 461.30 707.36 462.30 707.18 463.30 706.82 464.30 706.49 465.30 706.37 466.30 706.21 467.30 705.81 468.30 705.49 469.30 705.37 470.30 705.12 471.30 704.70 472.30 703.92 473.30 703.65 474.30 703.43 475.30 703.47 476.30 703.10 477.30 702.67 478.30 702.24 479.30 701.93 480.30 701.42 481.30 701.21 482.30 700.71 483.30 700.30 484.30 699.78 485.30 699.33 486.30 699.06 487.30 698.59 488.30 698.35 489.30 698.21 490.30 697.88 491.30 697.45 492.30 696.92 493.30 696.61 494.30 696.18 495.30 695.87 496.30 695.71 497.30 695.50 498.30 695.01 499.30 694.48 500.30 694.02 501.30 693.59 502.30 692.93 503.30 692.42 504.30 692.13 505.30 691.96 506.30 691.77 507.30 691.50 508.30 690.90 509.30 690.53 510.30 689.79 511.30 689.56 512.30 689.00 513.30 688.84 514.30 688.45 515.30 688.22 516.30 687.98 517.30 687.95 518.30 687.74 519.30 687.56 520.30 687.23 521.30 686.96 522.30 686.53 523.30 686.24 524.30 685.98 525.30 685.78 526.30 685.46 527.30 684.95 528.30 684.44 529.30 683.84 530.30 683.80 531.30 683.75 532.30 683.69 533.30 683.45 534.30 683.30 535.30 683.51 536.30 683.58 537.30 683.71 538.30 683.22 539.30 682.43 540.30 681.90 541.30 681.52 542.30 681.46 543.30 681.05 544.30 680.64 545.30 679.98 546.30 679.51 547.30 678.98 548.30 678.65 549.30 678.24 550.30 678.08 551.30 677.63 552.30 677.04 553.30 676.54 554.30 676.04 555.30 675.65 556.30 675.40 557.30 675.02 558.30 674.71 559.30 674.23 560.30 673.92 561.30 673.56 562.30 673.00 563.30 672.42 564.30 672.05 565.30 671.46 566.30 671.25 567.30 670.76 568.30 670.52 569.30 669.98 570.30 669.48 571.30 669.17 572.30 668.98 573.30 668.59 574.30 668.31 575.30 667.90 576.30 667.64 577.30 667.35 578.30 666.82 579.30 666.37 580.30 665.94 581.30 665.59 582.30 665.39 583.30 664.80 584.30 664.45 585.30 664.02 586.30 663.64 587.30 663.29 588.30 662.75 589.30 662.72 590.30 662.28 591.30 662.18 592.30 661.67 593.30 661.50 594.30 660.63 595.30 660.17 596.30 659.70 597.30 659.71 598.30 659.34 599.30 658.95 600.30 658.33 601.30 658.05 602.30 657.67 603.30 657.57 604.30 657.30 605.30 656.84 606.30 656.28 607.30 655.49 608.30 654.90 609.30 654.72 610.30 654.43 611.30 654.22 612.30 653.64 613.30 653.13 614.30 652.68 615.30 652.09 616.30 651.58 617.30 651.07 618.30 650.52 619.30 650.32 620.30 650.02 621.30 649.74 622.30 649.06 623.30 648.49 624.30 647.98 625.30 647.56 626.30 647.12 627.30 646.60 628.30 646.22 629.30 645.68 630.30 645.24 631.30 644.65 632.30 644.14 633.30 643.51 634.30 643.04 635.30 642.55 636.30 642.40 637.30 641.88 638.30 641.63 639.30 640.98 640.30 640.43 641.30 640.04 642.30 639.46 643.30 638.91 644.30 638.00 645.30 637.68 646.30 637.26 647.30 636.95 648.30 636.18 649.30 635.69 650.30 635.16 651.30 634.57 652.30 633.95 653.30 633.71 654.30 633.61 655.30 633.44 656.30 632.91 657.30 632.60 658.30 632.28 659.30 632.02 660.30 631.55 661.30 631.31 662.30 630.98 663.30 630.86 664.30 630.23 665.30 629.74 666.30 629.33 667.30 629.26 668.30 629.33 669.30 629.12 670.30 628.94 671.30 628.44 672.30 628.07" stroke="#2a6fdd" stroke-width="0.9" fill="none"/>
<path d="M408.30 727.63 409.30 727.04 410.30 726.58 411.30 726.02 412.30 725.42 413.30 724.69 414.30 724.11 415.30 723.52 416.30 723.34 417.30 722.78 418.30 722.53 419.30 721.84 420.30 721.43 421.30 720.67 422.30 719.97 423.30 719.36 424.30 718.96 425.30 718.43 426.30 717.87 427.30 717.11 428.30 716.64 429.30 715.95 430.30 715.79 431.30 715.46 432.30 715.39 433.30 714.85 434.30 714.26 435.30 713.88 436.30 713.23 437.30 713.06 438.30 712.60 439.30 712.45 440.30 712.06 441.30 711.87 442.30 711.54 443.30 710.84 444.30 710.24 445.30 709.98 446.30 709.89 447.30 709.38 448.30 708.75 449.30 708.27 450.30 707.81 451.30 707.47 452.30 707.15 453.30 706.74 454.30 706.36 455.30 705.95 456.30 705.59 457.30 704.95 458.30 704.43 459.30 704.17 460.30 703.76 461.30 703.11 462.30 702.66 463.30 702.39 464.30 702.37 465.30 702.08 466.30 701.91 467.30 701.23 468.30 700.47 469.30 700.01 470.30 699.54 471.30 699.22 472.30 698.46 473.30 698.08 474.30 697.59 475.30 697.35 476.30 696.69 477.30 695.92 478.30 694.83 479.30 694.26 480.30 693.85 481.30 693.59 482.30 693.19 483.30 692.50 484.30 691.82 485.30 691.20 486.30 690.86 487.30 690.40 488.30 689.89 489.30 689.13 490.30 688.63 491.30 688.17 492.30 687.72 493.30 687.33 494.30 687.13 495.30 686.97 496.30 687.15 497.30 687.01 498.30 686.70 499.30 686.10 500.30 685.66 501.30 685.48 502.30 685.11 503.30 684.92 504.30 684.49 505.30 684.33 506.30 683.66 507.30 683.37 508.30 683.16 509.30 683.27 510.30 683.19 511.30 682.71 512.30 682.35 513.30 681.95 514.30 681.68 515.30 681.23 516.30 680.87 517.30 680.58 518.30 680.06 519.30 679.83 520.30 679.35 521.30 679.44 522.30 678.86 523.30 678.54 524.30 677.84 525.30 677.64 526.30 677.30 527.30 676.82 528.30 676.49 529.30 676.33 530.30 676.06 531.30 675.73 532.30 675.24 533.30 675.11 534.30 675.03 535.30 674.74 536.30 674.50 537.30 674.25 538.30 673.97 539.30 673.60 540.30 672.90 541.30 672.89 542.30 672.75 543.30 672.47 544.30 671.81 545.30 671.19 546.30 670.75 547.30 670.39 548.30 669.90 549.30 669.61 550.30 669.12 551.30 668.82 552.30 668.10 553.30 667.42 554.30 666.40 555.30 665.88 556.30 665.63 557.30 665.31 558.30 665.00 559.30 664.34 560.30 663.97 561.30 663.26 562.30 662.69 563.30 662.12 564.30 661.84 565.30 661.52 566.30 661.08 567.30 660.48 568.30 659.98 569.30 659.51 570.30 659.07 571.30 658.40 572.30 658.06 573.30 657.55 574.30 657.33 575.30 656.88 576.30 656.56 577.30 656.03 578.30 655.61 579.30 655.08 580.30 654.72 581.30 654.08 582.30 653.72 583.30 653.50 584.30 653.22 585.30 652.85 586.30 652.79 587.30 652.53 588.30 652.37 589.30 651.63 590.30 651.20 591.30 650.65 592.30 650.17 593.30 649.63 594.30 649.31 595.30 648.99 596.30 648.79 597.30 648.45 598.30 648.07 599.30 647.75 600.30 647.35 601.30 646.93 602.30 646.47 603.30 645.88 604.30 645.61 605.30 645.22 606.30 644.98 607.30 644.57 608.30 644.23 609.30 643.86 610.30 643.33 611.30 642.69 612.30 642.18 613.30 641.88 614.30 641.63 615.30 640.99 616.30 640.47 617.30 640.10 618.30 639.94 619.30 639.50 620.30 638.72 621.30 638.07 622.30 637.56 623.30 637.31 624.30 636.86 625.30 636.43 626.30 636.00 627.30 635.54 628.30 635.08 629.30 634.56 630.30 634.11 631.30 633.53 632.30 633.07 633.30 632.64 634.30 631.98 635.30 631.45 636.30 630.92 637.30 630.74 638.30 630.20 639.30 629.88 640.30 629.40 641.30 628.75 642.30 627.84 643.30 627.15 644.30 626.94 645.30 626.70 646.30 626.18 647.30 625.49 648.30 624.68 649.30 623.97 650.30 623.60 651.30 623.27 652.30 622.95 653.30 622.37 654.30 622.09 655.30 621.85 656.30 621.85 657.30 621.42 658.30 621.23 659.30 620.81 660.30 620.49 661.30 620.10 662.30 619.52 663.30 619.22 664.30 618.77 665.30 618.42 666.30 618.02 667.30 617.35 668.30 617.04 669.30 616.57 670.30 616.51 671.30 616.29 672.30 616.03" stroke="#2f9e5e" stroke-width="0.9" fill="none"/>
<path d="M408.30 725.46 409.30 724.97 410.30 724.99 411.30 724.50 412.30 723.89 413.30 723.28 414.30 722.63 415.30 722.03 416.30 721.42 417.30 721.18 418.30 720.86 419.30 720.04 420.30 719.28 421.30 718.86 422.30 718.66 423.30 718.31 424.30 717.60 425.30 716.93 426.30 716.41 427.30 716.08 428.30 715.82 429.30 715.59 430.30 715.07 431.30 714.53 432.30 713.72 433.30 713.22 434.30 712.72 435.30 712.57 436.30 712.34 437.30 712.14 438.30 711.86 439.30 711.35 440.30 710.82 441.30 710.18 442.30 709.89 443.30 709.78 444.30 709.47 445.30 709.01 446.30 708.20 447.30 707.75 448.30 707.30 449.30 707.12 450.30 706.70 451.30 706.33 452.30 706.09 453.30 706.04 454.30 705.98 455.30 705.45 456.30 704.84 457.30 704.37 458.30 704.23 459.30 704.07 460.30 703.60 461.30 703.28 462.30 702.88 463.30 702.49 464.30 701.86 465.30 701.47 466.30 701.11 467.30 700.89 468.30 700.37 469.30 700.16 470.30 699.56 471.30 699.17 472.30 698.81 473.30 698.53 474.30 697.90 475.30 697.23 476.30 696.82 477.30 696.38 478.30 695.75 479.30 694.93 480.30 694.72 481.30 694.51 482.30 694.05 483.30 693.27 484.30 692.54 485.30 692.29 486.30 691.71 487.30 691.26 488.30 690.52 489.30 690.19 490.30 689.65 491.30 689.43 492.30 689.15 493.30 689.01 494.30 688.60 495.30 688.19 496.30 687.67 497.30 687.45 498.30 687.05 499.30 686.88 500.30 686.39 501.30 685.99 502.30 685.65 503.30 685.28 504.30 684.97 505.30 684.35 506.30 684.07 507.30 684.09 508.30 683.95 509.30 683.43 510.30 682.76 511.30 682.34 512.30 682.17 513.30 681.95 514.30 681.56 515.30 680.97 516.30 680.68 517.30 680.41 518.30 680.28 519.30 679.89 520.30 679.66 521.30 679.67 522.30 679.51 523.30 679.12 524.30 678.78 525.30 678.41 526.30 678.11 527.30 677.50 528.30 677.05 529.30 676.75 530.30 676.52 531.30 676.43 532.30 676.46 533.30 676.25 534.30 676.17 535.30 675.87 536.30 675.74 537.30 675.36 538.30 675.23 539.30 674.64 540.30 674.26 541.30 673.66 542.30 673.35 543.30 673.11 544.30 673.09 545.30 672.80 546.30 672.13 547.30 671.73 548.30 671.40 549.30 671.14 550.30 670.54 551.30 670.15 552.30 669.73 553.30 669.35 554.30 668.90 555.30 668.30 556.30 667.59 557.30 667.15 558.30 666.87 559.30 666.63 560.30 666.28 561.30 665.85 562.30 665.31 563.30 664.65 564.30 664.08 565.30 663.71 566.30 663.53 567.30 663.22 568.30 662.81 569.30 662.47 570.30 662.14 571.30 661.51 572.30 660.89 573.30 660.46 574.30 660.32 575.30 659.66 576.30 659.08 577.30 658.49 578.30 658.15 579.30 657.69 580.30 657.53 581.30 657.27 582.30 656.99 583.30 656.37 584.30 655.72 585.30 655.21 586.30 654.78 587.30 654.55 588.30 654.00 589.30 653.67 590.30 653.43 591.30 653.20 592.30 652.77 593.30 652.16 594.30 651.89 595.30 651.41 596.30 651.19 597.30 650.86 598.30 650.41 599.30 649.99 600.30 649.53 601.30 649.14 602.30 648.75 603.30 648.14 604.30 647.92 605.30 647.39 606.30 647.00 607.30 646.46 608.30 645.97 609.30 645.46 610.30 644.94 611.30 644.32 612.30 643.63 613.30 642.84 614.30 642.41 615.30 641.91 616.30 641.43 617.30 640.92 618.30 640.54 619.30 640.08 620.30 639.56 621.30 639.09 622.30 638.71 623.30 638.02 624.30 637.30 625.30 636.64 626.30 636.12 627.30 635.63 628.30 634.99 629.30 634.40 630.30 633.87 631.30 633.66 632.30 633.21 633.30 632.54 634.30 631.70 635.30 631.15 636.30 630.48 637.30 630.07 638.30 629.63 639.30 629.28 640.30 628.65 641.30 627.99 642.30 627.28 643.30 626.61 644.30 626.36 645.30 625.93 646.30 625.53 647.30 624.75 648.30 624.09 649.30 623.48 650.30 622.86 651.30 622.56 652.30 622.12 653.30 621.76 654.30 621.30 655.30 620.84 656.30 620.58 657.30 620.40 658.30 619.99 659.30 619.34 660.30 618.65 661.30 618.39 662.30 618.13 663.30 617.84 664.30 617.51 665.30 617.22 666.30 616.96 667.30 616.46 668.30 616.35 669.30 615.77 670.30 615.41 671.30 614.71 672.30 614.36" stroke="#a874e6" stroke-width="0.9" fill="none"/>
<path d="M56.60 1.60H331.60" stroke="#555" stroke-width="1.1" fill="none" stroke-linecap="square"/>
<path d="M331.60 1.60V222.60" stroke="#555" stroke-width="1.1" fill="none" stroke-linecap="square"/>
<path d="M56.60 1.60V222.60H331.60" stroke="#333" stroke-width="1.1" fill="none" stroke-linecap="square"/>
<path d="M125.35 222.60v-4.2M125.35 1.60v4.2M194.10 222.60v-4.2M194.10 1.60v4.2M262.85 222.60v-4.2M262.85 1.60v4.2M90.97 222.60v-2.3M90.97 1.60v2.3M159.72 222.60v-2.3M159.72 1.60v2.3M228.47 222.60v-2.3M228.47 1.60v2.3M297.23 222.60v-2.3M297.23 1.60v2.3M56.60 173.49h4.2M331.60 173.49h-4.2M56.60 124.38h4.2M331.60 124.38h-4.2M56.60 75.27h4.2M331.60 75.27h-4.2M56.60 26.16h4.2M331.60 26.16h-4.2M56.60 198.04h2.3M331.60 198.04h-2.3M56.60 148.93h2.3M331.60 148.93h-2.3M56.60 99.82h2.3M331.60 99.82h-2.3M56.60 50.71h2.3M331.60 50.71h-2.3" stroke="#333" stroke-width="1.1" fill="none"/>
<text x="56.60" y="237.00" text-anchor="middle" class="t">720</text>
<text x="125.35" y="237.00" text-anchor="middle" class="t">1080</text>
<text x="194.10" y="237.00" text-anchor="middle" class="t">1440</text>
<text x="262.85" y="237.00" text-anchor="middle" class="t">1800</text>
<text x="331.60" y="237.00" text-anchor="middle" class="t">2160</text>
<text x="52.10" y="226.70" text-anchor="end" class="t">500</text>
<text x="52.10" y="177.59" text-anchor="end" class="t">550</text>
<text x="52.10" y="128.48" text-anchor="end" class="t">600</text>
<text x="52.10" y="79.37" text-anchor="end" class="t">650</text>
<text x="52.10" y="30.26" text-anchor="end" class="t">700</text>
<text x="194.10" y="257.00" text-anchor="middle" class="at">Angle(deg)</text>
<line x1="246.6" y1="137.00" x2="275.0" y2="137.00" stroke="#a0a0a0" stroke-width="1.6"/>
<text x="278.4" y="141.20" class="lg"><tspan font-style="italic" font-size="11px">ψ</tspan>=20°</text>
<line x1="246.6" y1="152.40" x2="275.0" y2="152.40" stroke="#f08080" stroke-width="1.0"/>
<text x="278.4" y="156.60" class="lg"><tspan font-style="italic" font-size="11px">ψ</tspan>=30°</text>
<line x1="246.6" y1="167.80" x2="275.0" y2="167.80" stroke="#6aa0ee" stroke-width="1.8"/>
<text x="278.4" y="172.00" class="lg"><tspan font-style="italic" font-size="11px">ψ</tspan>=40°</text>
<line x1="246.6" y1="183.20" x2="275.0" y2="183.20" stroke="#2f9e5e" stroke-width="1.3"/>
<text x="278.4" y="187.40" class="lg"><tspan font-style="italic" font-size="11px">ψ</tspan>=50°</text>
<line x1="246.6" y1="198.60" x2="275.0" y2="198.60" stroke="#b48be8" stroke-width="1.6"/>
<text x="278.4" y="202.80" class="lg"><tspan font-style="italic" font-size="11px">ψ</tspan>=60°</text>
<text transform="translate(23.60 109.50) rotate(-90)" text-anchor="middle" class="at">Elastic  energy  ( J )</text>
<text x="-0.5" y="22.3" class="tag">(a)</text>
<path d="M404.40 4.20H673.00" stroke="#2a2a2a" stroke-width="1.1" fill="none" stroke-linecap="square"/>
<path d="M673.00 4.20V220.00" stroke="#2a2a2a" stroke-width="1.1" fill="none" stroke-linecap="square"/>
<path d="M404.40 4.20V220.00H673.00" stroke="#333" stroke-width="1.1" fill="none" stroke-linecap="square"/>
<path d="M471.55 220.00v-4.2M471.55 4.20v4.2M538.70 220.00v-4.2M538.70 4.20v4.2M605.85 220.00v-4.2M605.85 4.20v4.2M437.97 220.00v-2.3M437.97 4.20v2.3M505.12 220.00v-2.3M505.12 4.20v2.3M572.27 220.00v-2.3M572.27 4.20v2.3M639.42 220.00v-2.3M639.42 4.20v2.3M404.40 196.02h4.2M673.00 196.02h-4.2M404.40 148.07h4.2M673.00 148.07h-4.2M404.40 100.11h4.2M673.00 100.11h-4.2M404.40 52.16h4.2M673.00 52.16h-4.2M404.40 220.00h2.3M673.00 220.00h-2.3M404.40 172.04h2.3M673.00 172.04h-2.3M404.40 124.09h2.3M673.00 124.09h-2.3M404.40 76.13h2.3M673.00 76.13h-2.3M404.40 28.18h2.3M673.00 28.18h-2.3" stroke="#333" stroke-width="1.1" fill="none"/>
<text x="404.40" y="234.40" text-anchor="middle" class="t">720</text>
<text x="471.55" y="234.40" text-anchor="middle" class="t">1080</text>
<text x="538.70" y="234.40" text-anchor="middle" class="t">1440</text>
<text x="605.85" y="234.40" text-anchor="middle" class="t">1800</text>
<text x="673.00" y="234.40" text-anchor="middle" class="t">2160</text>
<text x="399.90" y="200.12" text-anchor="end" class="t">300</text>
<text x="399.90" y="152.17" text-anchor="end" class="t">400</text>
<text x="399.90" y="104.21" text-anchor="end" class="t">500</text>
<text x="399.90" y="56.26" text-anchor="end" class="t">600</text>
<text x="399.90" y="8.30" text-anchor="end" class="t">700</text>
<text x="538.70" y="254.40" text-anchor="middle" class="at">Angle(deg)</text>
<line x1="422.0" y1="22.40" x2="450.0" y2="22.40" stroke="#444444" stroke-width="1.3"/>
<text x="452.6" y="26.60" class="lg"><tspan font-style="italic" font-size="11px">ψ</tspan>=20°</text>
<line x1="422.0" y1="37.55" x2="450.0" y2="37.55" stroke="#f06060" stroke-width="1.1"/>
<text x="452.6" y="41.75" class="lg"><tspan font-style="italic" font-size="11px">ψ</tspan>=30°</text>
<line x1="422.0" y1="52.70" x2="450.0" y2="52.70" stroke="#3377e6" stroke-width="1.5"/>
<text x="452.6" y="56.90" class="lg"><tspan font-style="italic" font-size="11px">ψ</tspan>=40°</text>
<line x1="422.0" y1="67.85" x2="450.0" y2="67.85" stroke="#a8dcb8" stroke-width="1.7"/>
<text x="452.6" y="72.05" class="lg"><tspan font-style="italic" font-size="11px">ψ</tspan>=50°</text>
<line x1="422.0" y1="83.00" x2="450.0" y2="83.00" stroke="#c69cf0" stroke-width="1.8"/>
<text x="452.6" y="87.20" class="lg"><tspan font-style="italic" font-size="11px">ψ</tspan>=60°</text>
<text transform="translate(368.00 109.00) rotate(-90)" text-anchor="middle" class="at">Friction  energy  ( J )</text>
<text x="356.3" y="22.4" class="tag">(b)</text>
<path d="M59.00 296.30H325.40" stroke="#888" stroke-width="1.1" fill="none" stroke-linecap="square"/>
<path d="M325.40 296.30V511.30" stroke="#888" stroke-width="1.1" fill="none" stroke-linecap="square"/>
<path d="M59.00 296.30V511.30H325.40" stroke="#333" stroke-width="1.1" fill="none" stroke-linecap="square"/>
<path d="M125.60 511.30v-4.2M125.60 296.30v4.2M192.20 511.30v-4.2M192.20 296.30v4.2M258.80 511.30v-4.2M258.80 296.30v4.2M92.30 511.30v-2.3M92.30 296.30v2.3M158.90 511.30v-2.3M158.90 296.30v2.3M225.50 511.30v-2.3M225.50 296.30v2.3M292.10 511.30v-2.3M292.10 296.30v2.3M59.00 439.63h4.2M325.40 439.63h-4.2M59.00 367.97h4.2M325.40 367.97h-4.2M59.00 475.47h2.3M325.40 475.47h-2.3M59.00 403.80h2.3M325.40 403.80h-2.3M59.00 332.13h2.3M325.40 332.13h-2.3" stroke="#333" stroke-width="1.1" fill="none"/>
<text x="59.00" y="525.70" text-anchor="middle" class="t">720</text>
<text x="125.60" y="525.70" text-anchor="middle" class="t">1080</text>
<text x="192.20" y="525.70" text-anchor="middle" class="t">1440</text>
<text x="258.80" y="525.70" text-anchor="middle" class="t">1800</text>
<text x="325.40" y="525.70" text-anchor="middle" class="t">2160</text>
<text x="54.50" y="515.40" text-anchor="end" class="t">0</text>
<text x="54.50" y="443.73" text-anchor="end" class="t">5000</text>
<text x="54.50" y="372.07" text-anchor="end" class="t">10000</text>
<text x="54.50" y="300.40" text-anchor="end" class="t">15000</text>
<text x="192.20" y="545.70" text-anchor="middle" class="at">Angle(deg)</text>
<line x1="88.0" y1="311.00" x2="115.6" y2="311.00" stroke="#a8a8a8" stroke-width="1.6"/>
<text x="119.0" y="315.20" class="lg"><tspan font-style="italic" font-size="11px">ψ</tspan>=20°</text>
<line x1="88.0" y1="326.15" x2="115.6" y2="326.15" stroke="#f06060" stroke-width="1.6"/>
<text x="119.0" y="330.35" class="lg"><tspan font-style="italic" font-size="11px">ψ</tspan>=30°</text>
<line x1="88.0" y1="341.30" x2="115.6" y2="341.30" stroke="#6a9ff0" stroke-width="1.2"/>
<text x="119.0" y="345.50" class="lg"><tspan font-style="italic" font-size="11px">ψ</tspan>=40°</text>
<line x1="88.0" y1="356.45" x2="115.6" y2="356.45" stroke="#3aa066" stroke-width="1.2"/>
<text x="119.0" y="360.65" class="lg"><tspan font-style="italic" font-size="11px">ψ</tspan>=50°</text>
<line x1="88.0" y1="371.60" x2="115.6" y2="371.60" stroke="#b48be8" stroke-width="1.0"/>
<text x="119.0" y="375.80" class="lg"><tspan font-style="italic" font-size="11px">ψ</tspan>=60°</text>
<text transform="translate(17.30 397.70) rotate(-90)" text-anchor="middle" class="at">Damping  energy (J)</text>
<text x="-1" y="310.2" class="tag">(c)</text>
<path d="M404.20 294.00H672.00" stroke="#444" stroke-width="1.1" fill="none" stroke-linecap="square"/>
<path d="M672.00 294.00V510.00" stroke="#888" stroke-width="1.1" fill="none" stroke-linecap="square"/>
<path d="M404.20 294.00V510.00H672.00" stroke="#333" stroke-width="1.1" fill="none" stroke-linecap="square"/>
<path d="M493.47 510.00v-4.2M493.47 294.00v4.2M582.73 510.00v-4.2M582.73 294.00v4.2M448.83 510.00v-2.3M448.83 294.00v2.3M538.10 510.00v-2.3M538.10 294.00v2.3M627.37 510.00v-2.3M627.37 294.00v2.3M404.20 466.80h4.2M672.00 466.80h-4.2M404.20 423.60h4.2M672.00 423.60h-4.2M404.20 380.40h4.2M672.00 380.40h-4.2M404.20 337.20h4.2M672.00 337.20h-4.2M404.20 488.40h2.3M672.00 488.40h-2.3M404.20 445.20h2.3M672.00 445.20h-2.3M404.20 402.00h2.3M672.00 402.00h-2.3M404.20 358.80h2.3M672.00 358.80h-2.3M404.20 315.60h2.3M672.00 315.60h-2.3" stroke="#333" stroke-width="1.1" fill="none"/>
<text x="404.20" y="524.40" text-anchor="middle" class="t">1080</text>
<text x="493.47" y="524.40" text-anchor="middle" class="t">1440</text>
<text x="582.73" y="524.40" text-anchor="middle" class="t">1800</text>
<text x="672.00" y="524.40" text-anchor="middle" class="t">2160</text>
<text x="399.70" y="514.10" text-anchor="end" class="t">5.0</text>
<text x="399.70" y="470.90" text-anchor="end" class="t">7.5</text>
<text x="399.70" y="427.70" text-anchor="end" class="t">10.0</text>
<text x="399.70" y="384.50" text-anchor="end" class="t">12.5</text>
<text x="399.70" y="341.30" text-anchor="end" class="t">15.0</text>
<text x="399.70" y="298.10" text-anchor="end" class="t">17.5</text>
<text x="538.10" y="544.40" text-anchor="middle" class="at">Angle(deg)</text>
<line x1="432.4" y1="307.60" x2="459.6" y2="307.60" stroke="#e2e2e2" stroke-width="1.2"/>
<text x="463.0" y="311.80" class="lg"><tspan font-style="italic" font-size="11px">ψ</tspan>=20°</text>
<line x1="432.4" y1="322.95" x2="459.6" y2="322.95" stroke="#f59a9a" stroke-width="1.8"/>
<text x="463.0" y="327.15" class="lg"><tspan font-style="italic" font-size="11px">ψ</tspan>=30°</text>
<line x1="432.4" y1="338.30" x2="459.6" y2="338.30" stroke="#f7f7f7" stroke-width="1.0"/>
<text x="463.0" y="342.50" class="lg"><tspan font-style="italic" font-size="11px">ψ</tspan>=40°</text>
<line x1="432.4" y1="353.65" x2="459.6" y2="353.65" stroke="#6cc08a" stroke-width="1.2"/>
<text x="463.0" y="357.85" class="lg"><tspan font-style="italic" font-size="11px">ψ</tspan>=50°</text>
<text x="463.0" y="373.20" class="lg"><tspan font-style="italic" font-size="11px">ψ</tspan>=60°</text>
<text transform="translate(365.00 397.70) rotate(-90)" text-anchor="middle" class="at">Kinetic energy (J)</text>
<text x="339.2" y="312.0" class="tag">(d)</text>
<path d="M55.60 583.60H327.40" stroke="#888" stroke-width="1.1" fill="none" stroke-linecap="square"/>
<path d="M327.40 583.60V802.50" stroke="#888" stroke-width="1.1" fill="none" stroke-linecap="square"/>
<path d="M55.60 583.60V802.50H327.40" stroke="#333" stroke-width="1.1" fill="none" stroke-linecap="square"/>
<path d="M123.55 802.50v-4.2M123.55 583.60v4.2M191.50 802.50v-4.2M191.50 583.60v4.2M259.45 802.50v-4.2M259.45 583.60v4.2M89.57 802.50v-2.3M89.57 583.60v2.3M157.52 802.50v-2.3M157.52 583.60v2.3M225.47 802.50v-2.3M225.47 583.60v2.3M293.42 802.50v-2.3M293.42 583.60v2.3M55.60 739.96h4.2M327.40 739.96h-4.2M55.60 677.41h4.2M327.40 677.41h-4.2M55.60 614.87h4.2M327.40 614.87h-4.2M55.60 771.23h2.3M327.40 771.23h-2.3M55.60 708.69h2.3M327.40 708.69h-2.3M55.60 646.14h2.3M327.40 646.14h-2.3" stroke="#333" stroke-width="1.1" fill="none"/>
<text x="55.60" y="816.90" text-anchor="middle" class="t">720</text>
<text x="123.55" y="816.90" text-anchor="middle" class="t">1080</text>
<text x="191.50" y="816.90" text-anchor="middle" class="t">1440</text>
<text x="259.45" y="816.90" text-anchor="middle" class="t">1800</text>
<text x="327.40" y="816.90" text-anchor="middle" class="t">2160</text>
<text x="51.10" y="806.60" text-anchor="end" class="t">0</text>
<text x="51.10" y="744.06" text-anchor="end" class="t">100</text>
<text x="51.10" y="681.51" text-anchor="end" class="t">200</text>
<text x="51.10" y="618.97" text-anchor="end" class="t">300</text>
<text x="191.50" y="836.90" text-anchor="middle" class="at">Angle(deg)</text>
<line x1="246.1" y1="719.00" x2="274.0" y2="719.00" stroke="#a8a8a8" stroke-width="1.0"/>
<text x="277.8" y="723.20" class="lg"><tspan font-style="italic" font-size="11px">ψ</tspan>=20°</text>
<line x1="246.1" y1="734.40" x2="274.0" y2="734.40" stroke="#ee3b3b" stroke-width="1.3"/>
<text x="277.8" y="738.60" class="lg"><tspan font-style="italic" font-size="11px">ψ</tspan>=30°</text>
<line x1="246.1" y1="749.80" x2="274.0" y2="749.80" stroke="#5a90e8" stroke-width="2.0"/>
<text x="277.8" y="754.00" class="lg"><tspan font-style="italic" font-size="11px">ψ</tspan>=40°</text>
<line x1="246.1" y1="765.20" x2="274.0" y2="765.20" stroke="#3aa066" stroke-width="1.3"/>
<text x="277.8" y="769.40" class="lg"><tspan font-style="italic" font-size="11px">ψ</tspan>=50°</text>
<line x1="246.1" y1="780.60" x2="274.0" y2="780.60" stroke="#c8a8f0" stroke-width="1.2"/>
<text x="277.8" y="784.80" class="lg"><tspan font-style="italic" font-size="11px">ψ</tspan>=60°</text>
<text transform="translate(19.00 682.00) rotate(-90)" text-anchor="middle" class="at">Adhesive  energy (J)</text>
<text x="-1" y="598.2" class="tag">(e)</text>
<path d="M408.00 589.60H673.00" stroke="#8a8a8a" stroke-width="1.1" fill="none" stroke-linecap="square"/>
<path d="M673.00 589.60V803.00" stroke="#8a8a8a" stroke-width="1.1" fill="none" stroke-linecap="square"/>
<path d="M408.00 589.60V803.00H673.00" stroke="#333" stroke-width="1.1" fill="none" stroke-linecap="square"/>
<path d="M474.25 803.00v-4.2M474.25 589.60v4.2M540.50 803.00v-4.2M540.50 589.60v4.2M606.75 803.00v-4.2M606.75 589.60v4.2M441.12 803.00v-2.3M441.12 589.60v2.3M507.38 803.00v-2.3M507.38 589.60v2.3M573.62 803.00v-2.3M573.62 589.60v2.3M639.88 803.00v-2.3M639.88 589.60v2.3M408.00 731.87h4.2M673.00 731.87h-4.2M408.00 660.73h4.2M673.00 660.73h-4.2M408.00 767.43h2.3M673.00 767.43h-2.3M408.00 696.30h2.3M673.00 696.30h-2.3M408.00 625.17h2.3M673.00 625.17h-2.3" stroke="#333" stroke-width="1.1" fill="none"/>
<text x="408.00" y="817.40" text-anchor="middle" class="t">720</text>
<text x="474.25" y="817.40" text-anchor="middle" class="t">1080</text>
<text x="540.50" y="817.40" text-anchor="middle" class="t">1440</text>
<text x="606.75" y="817.40" text-anchor="middle" class="t">1800</text>
<text x="673.00" y="817.40" text-anchor="middle" class="t">2160</text>
<text x="403.50" y="807.10" text-anchor="end" class="t">0</text>
<text x="403.50" y="735.97" text-anchor="end" class="t">5000</text>
<text x="403.50" y="664.83" text-anchor="end" class="t">10000</text>
<text x="403.50" y="593.70" text-anchor="end" class="t">15000</text>
<text x="540.50" y="837.40" text-anchor="middle" class="at">Angle(deg)</text>
<line x1="427.0" y1="605.60" x2="454.4" y2="605.60" stroke="#333333" stroke-width="1.2"/>
<text x="457.6" y="609.80" class="lg"><tspan font-style="italic" font-size="11px">ψ</tspan>=20°</text>
<line x1="427.0" y1="620.60" x2="454.4" y2="620.60" stroke="#ee5050" stroke-width="1.1"/>
<text x="457.6" y="624.80" class="lg"><tspan font-style="italic" font-size="11px">ψ</tspan>=30°</text>
<line x1="427.0" y1="635.60" x2="454.4" y2="635.60" stroke="#4a86e6" stroke-width="1.1"/>
<text x="457.6" y="639.80" class="lg"><tspan font-style="italic" font-size="11px">ψ</tspan>=40°</text>
<line x1="427.0" y1="650.60" x2="454.4" y2="650.60" stroke="#3aa066" stroke-width="1.1"/>
<text x="457.6" y="654.80" class="lg"><tspan font-style="italic" font-size="11px">ψ</tspan>=50°</text>
<line x1="427.0" y1="665.60" x2="454.4" y2="665.60" stroke="#b48be8" stroke-width="1.1"/>
<text x="457.6" y="669.80" class="lg"><tspan font-style="italic" font-size="11px">ψ</tspan>=60°</text>
<text transform="translate(364.00 694.40) rotate(-90)" text-anchor="middle" class="at">Total energy  ( J )</text>
<text x="337.6" y="597.0" class="tag">(f)</text>
</svg>
</body></html>
